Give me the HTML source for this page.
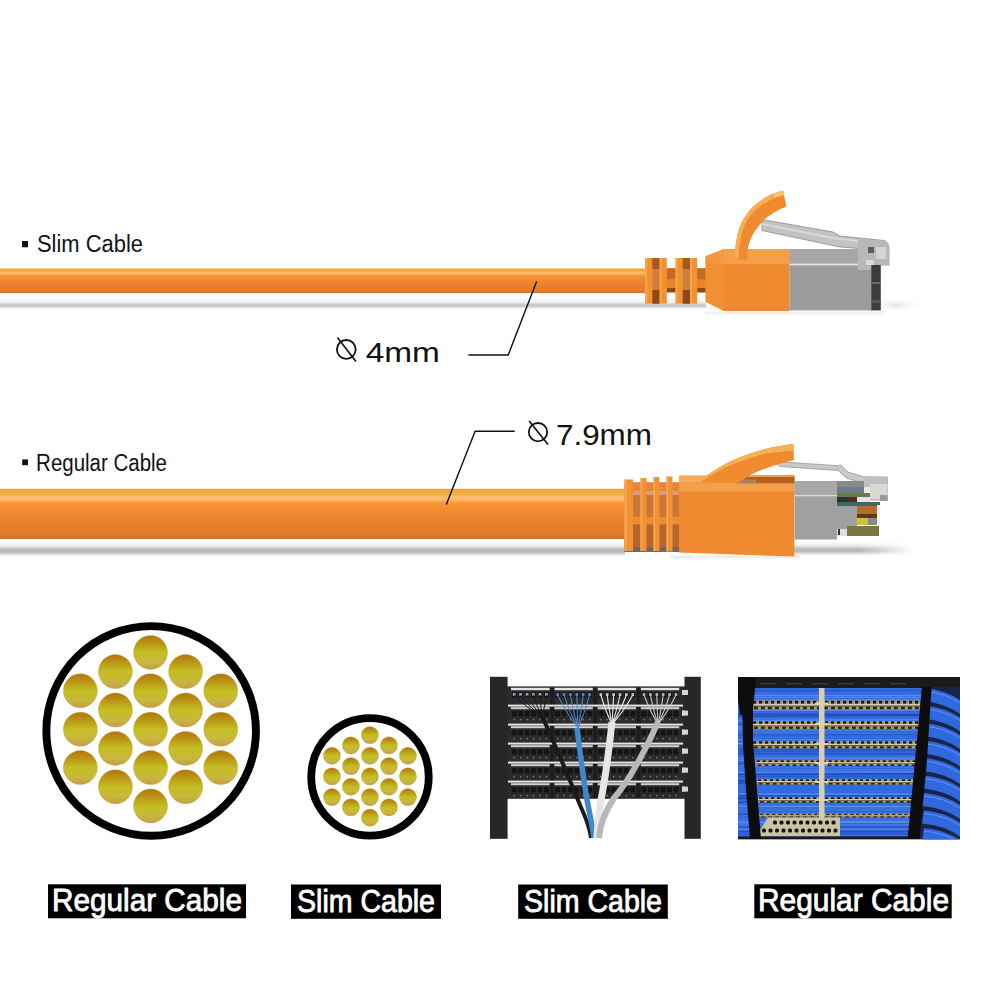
<!DOCTYPE html>
<html><head><meta charset="utf-8">
<style>
html,body{margin:0;padding:0;background:#fff;}
body{width:1000px;height:1000px;overflow:hidden;position:relative;font-family:"Liberation Sans",sans-serif;}
svg{position:absolute;left:0;top:0;display:block;font-family:"Liberation Sans",sans-serif;}
</style></head>
<body>
<svg width="1000" height="1000" viewBox="0 0 1000 1000">
<defs>
  <linearGradient id="cab" x1="0" y1="0" x2="0" y2="1">
    <stop offset="0" stop-color="#E8A640"/>
    <stop offset="0.05" stop-color="#EEA93E"/>
    <stop offset="0.12" stop-color="#F2AE46"/>
    <stop offset="0.16" stop-color="#FCBE70"/>
    <stop offset="0.23" stop-color="#FBB464"/>
    <stop offset="0.28" stop-color="#F99636"/>
    <stop offset="0.45" stop-color="#F38C30"/>
    <stop offset="0.62" stop-color="#E8822E"/>
    <stop offset="0.92" stop-color="#E27A2A"/>
    <stop offset="1" stop-color="#C87436"/>
  </linearGradient>
  <linearGradient id="shdS" x1="0" y1="0" x2="0" y2="1">
    <stop offset="0" stop-color="#F4F6F8" stop-opacity="0"/>
    <stop offset="0.45" stop-color="#EDEFF1"/>
    <stop offset="0.62" stop-color="#C8C8C8"/>
    <stop offset="0.76" stop-color="#CDCDCD"/>
    <stop offset="1" stop-color="#FFFFFF" stop-opacity="0"/>
  </linearGradient>
  <linearGradient id="shdR" x1="0" y1="0" x2="0" y2="1">
    <stop offset="0" stop-color="#F4F6F8" stop-opacity="0"/>
    <stop offset="0.3" stop-color="#EEF0F2"/>
    <stop offset="0.55" stop-color="#B8B8B8"/>
    <stop offset="0.7" stop-color="#BDBDBD"/>
    <stop offset="1" stop-color="#FFFFFF" stop-opacity="0"/>
  </linearGradient>
  <linearGradient id="shdX" x1="0" y1="0" x2="1" y2="0">
    <stop offset="0" stop-color="#fff" stop-opacity="1"/>
    <stop offset="0.6" stop-color="#fff" stop-opacity="1"/>
    <stop offset="1" stop-color="#fff" stop-opacity="0"/>
  </linearGradient>
  <linearGradient id="shd" x1="0" y1="0" x2="0" y2="1">
    <stop offset="0" stop-color="#fff" stop-opacity="0"/>
    <stop offset="0.5" stop-color="#B4B4B4"/>
    <stop offset="1" stop-color="#fff" stop-opacity="0"/>
  </linearGradient>
  <linearGradient id="dot" x1="0" y1="0" x2="0" y2="1">
    <stop offset="0" stop-color="#B4740C"/>
    <stop offset="0.3" stop-color="#BCA018"/>
    <stop offset="0.5" stop-color="#C4BE22"/>
    <stop offset="0.78" stop-color="#C8B83E"/>
    <stop offset="1" stop-color="#C89C48"/>
  </linearGradient>
  <linearGradient id="grey" x1="0" y1="0" x2="0" y2="1">
    <stop offset="0" stop-color="#A9A9A9"/>
    <stop offset="1" stop-color="#9A9A9A"/>
  </linearGradient>
  <clipPath id="bpclip"><rect x="738" y="677" width="222" height="162.4"/></clipPath>
  <linearGradient id="fadeX" x1="0" y1="0" x2="1" y2="0">
    <stop offset="0" stop-color="#fff"/>
    <stop offset="0.55" stop-color="#fff"/>
    <stop offset="1" stop-color="#000"/>
  </linearGradient>
  <mask id="fadeMask" maskContentUnits="objectBoundingBox"><rect x="0" y="0" width="1" height="1" fill="url(#fadeX)"/></mask>
  <radialGradient id="softsh" cx="0.5" cy="0.5" r="0.5">
    <stop offset="0" stop-color="#D0D0D0"/>
    <stop offset="1" stop-color="#fff" stop-opacity="0"/>
  </radialGradient>
</defs>

<!-- ============ SLIM CABLE ============ -->
<rect x="0" y="296" width="706" height="14" fill="url(#shdS)"/>
<rect x="0" y="268.5" width="648" height="24.6" fill="url(#cab)"/>

<!-- ============ REGULAR CABLE ============ -->
<rect x="0" y="540" width="625" height="18" fill="url(#shdR)"/>
<rect x="0" y="488.8" width="628" height="50.2" fill="url(#cab)"/>


<!-- slim connector -->
<ellipse cx="896" cy="305" rx="28" ry="8" fill="url(#softsh)" opacity="0.6"/>
<g id="slimconn">
  <!-- shadow under connector -->
  <rect x="705" y="308" width="180" height="10" fill="url(#shd)" opacity="0.2"/>
  <!-- inner cylinder between rings -->
  <rect x="645" y="268" width="62" height="24" fill="#E8842E"/>
  <rect x="666.8" y="268.8" width="8.8" height="10.4" fill="#C06C2A"/>
  <rect x="697.2" y="268.8" width="8.8" height="10.4" fill="#C06C2A"/>
  <rect x="666.8" y="288" width="8.8" height="4.5" fill="#8E4A18"/>
  <rect x="697.2" y="288" width="8.8" height="4.5" fill="#8E4A18"/>
  <!-- ring group 1 -->
  <rect x="645.2" y="258" width="21.6" height="45.6" fill="#F2922F"/>
  <rect x="652.4" y="258" width="7.2" height="45.6" fill="#D07E3E"/>
  <rect x="652.4" y="258" width="7.2" height="11" fill="#A8581A"/>
  <rect x="652.4" y="290" width="7.2" height="13.6" fill="#8E4818"/>
  <rect x="645.2" y="258" width="2" height="45.6" fill="#F7A64A"/>
  <rect x="659.6" y="258" width="2" height="45.6" fill="#F7A64A"/>
  <!-- ring group 2 -->
  <rect x="675.6" y="258" width="21.6" height="45.6" fill="#F2922F"/>
  <rect x="682.8" y="258" width="7.2" height="45.6" fill="#D07E3E"/>
  <rect x="682.8" y="258" width="7.2" height="11" fill="#A8581A"/>
  <rect x="682.8" y="290" width="7.2" height="13.6" fill="#8E4818"/>
  <rect x="675.6" y="258" width="2" height="45.6" fill="#F7A64A"/>
  <rect x="690" y="258" width="2" height="45.6" fill="#F7A64A"/>
  <!-- grey latch arm (behind) -->
  <path d="M762,219.5 L833,232 L840,236 L884,240.5 Q889,242 889,250 L889,265 L866,265 L866,249 L840,247 L833,245.6 L762,230.5 Z" fill="#C2C2C2" stroke="#8C8C8C" stroke-width="0.8"/>
  <path d="M762,224 L833,238 L866,242" fill="none" stroke="#D8D8D8" stroke-width="2"/>
  <!-- body -->
  <path d="M705.6,256.3 L723.8,249.3 L789.6,249.3 L789.6,311 L723.8,311 L705.6,301.8 Z" fill="#F08A2F"/>
  <path d="M705.6,256.3 L723.8,249.3 L789.6,249.3 L789.6,264 L718,264 L705.6,262 Z" fill="#F4A04A"/>
  <path d="M705.6,256.3 L723.8,249.3 L723.8,311 L705.6,301.8 Z" fill="#F29536" opacity="0.6"/>
  <!-- orange latch -->
  <path d="M734.4,259.4 C735,248 737,234 740,226.6 C743,219 749,210 754.4,205.8 C759,201.5 766,196.5 772.8,193.8 C776,192.5 780,191.5 783.2,191 L786.4,206.6 C782,208 779,210 776,211.4 C772,213.5 769,215.5 766.4,217.8 C763,220.5 760.5,223.5 758.4,226.6 C755.5,230 753.5,233 752,236.2 C750,240 748.7,244 748,247.4 C747.5,251 747.2,255 747.2,259.4 Z" fill="#F08A2E"/>
  <path d="M734.4,259.4 C735,248 737,234 740,226.6 C743,219 749,210 754.4,205.8 C759,201.5 766,196.5 772.8,193.8 C776,192.5 780,191.5 783.2,191 L784,195.2 C776,196.5 767,201 758,208 C751,213.5 746,221 743.2,229 C740.5,237 739,249 738.2,259.4 Z" fill="#F7AE52"/>
  <path d="M772.8,193.8 C776,192.5 780,191.5 783.2,191 L784,195.2 C780,195.8 777,196.6 774,197.6 Z" fill="#FAC470"/>
  <!-- grey shield -->
  <rect x="789.6" y="249.2" width="81.6" height="61.2" fill="#9C9C9C"/>
  <rect x="789.6" y="249.2" width="81.6" height="14.4" fill="#A7A7A7"/>
  <rect x="789.6" y="263.6" width="81.6" height="1.8" fill="#E4E4E4"/>
  <rect x="858" y="249.2" width="13" height="20" fill="#8C8C8C"/>
  <!-- clear housing right -->
  <path d="M858,239.6 L884,240.5 Q889,242 889,250 L889,264.8 L871,264.8 L871,270 L858,270 Z" fill="#B8B8B8"/>
  <rect x="876" y="247" width="10" height="12" fill="#D4D4D4"/>
  <rect x="868" y="247" width="6" height="6" fill="#5A5A5A"/>
  <rect x="866" y="260" width="8" height="5" fill="#DADADA"/>
  <!-- dark end -->
  <rect x="871.2" y="265" width="9.6" height="45.4" fill="#3C3C3C"/>
  <rect x="871.2" y="282" width="9.6" height="2" fill="#6A6A6A"/>
  <rect x="871.2" y="300" width="9.6" height="3" fill="#555"/>
</g>

<!-- regular connector -->
<g id="regconn">
  <rect x="794" y="540" width="120" height="17" fill="url(#shdR)" mask="url(#fadeMask)"/>
  <rect x="670" y="553" width="130" height="8" fill="url(#shd)" opacity="0.3"/>
  <!-- boot -->
  <rect x="624.5" y="482.5" width="55" height="69" fill="#C97636"/>
  <rect x="624.5" y="482.5" width="55" height="8.5" fill="#E5853A"/>
  <rect x="624.5" y="491" width="55" height="4" fill="#DE9A7A"/>
  <rect x="624.5" y="517" width="55" height="7.5" fill="#F08C30"/>
  <rect x="624.5" y="524.5" width="55" height="24" fill="#B4662E"/>
  <rect x="624.5" y="547" width="55" height="5" fill="#7A6460"/>
  <rect x="624.5" y="479.5" width="8.5" height="71.5" fill="#F39232"/>
  <rect x="640.5" y="478" width="6" height="73" fill="#F39232"/>
  <rect x="653.5" y="477" width="6" height="74" fill="#F39232"/>
  <rect x="666.5" y="476.5" width="6" height="75" fill="#F39232"/>
  <rect x="624.5" y="479.5" width="2" height="71.5" fill="#F8AA55"/>
  <rect x="640.5" y="478" width="1.5" height="73" fill="#F8AA55"/>
  <rect x="653.5" y="477" width="1.5" height="74" fill="#F8AA55"/>
  <rect x="666.5" y="476.5" width="1.5" height="75" fill="#F8AA55"/>
  <!-- grey latch arm -->
  <path d="M776,461.5 L838.4,465.7 L841,465 L848,472 L863.6,476.8 L887.4,477 L887.4,500 L864,500 L863.6,483.2 L846.8,478.3 L838.4,470.6 L780,466.5 Z" fill="#C8C8C8" stroke="#8E8E8E" stroke-width="0.7"/>
  <!-- body -->
  <path d="M679,476 L794.3,476 L794.3,556.5 L679,552.5 Z" fill="#F08A30"/>
  <path d="M679,475.4 L794.3,475.4 L794.3,491.6 L679,491.6 Z" fill="#F4A04A"/>
  <rect x="679" y="476" width="115.3" height="6" fill="#F7AC5A"/>
  <!-- recess below latch -->
  <path d="M736,475.4 L794.5,475.4 L794.5,483.2 L736,483.2 Z" fill="#B65E20"/>
  <rect x="736" y="475.4" width="58.5" height="1.6" fill="#EFA050"/>
  <path d="M737,479.5 L756,479.5 L756,483.2 L737,483.2 Z" fill="#A88068"/>
  <!-- orange latch -->
  <path d="M697.7,482.6 C703,478.5 707,475 712,472.1 C717,468.8 723,465 728.5,462.2 C734,459.6 740,457.2 745,455.6 C752,453 760,450.5 767,448.5 C776,446.5 785,445 793.4,444 L794,460 C789,461.3 783,462.8 778,464.4 C772,466 767,468 761.5,469.9 C758,471.3 755,472.6 751.6,474.3 C748.5,476 745.5,477.8 742.8,479.8 C740.8,481 739,482 737.3,483.1 Z" fill="#F08A2E"/>
  <path d="M697.7,482.6 C703,478.5 707,475 712,472.1 C717,468.8 723,465 728.5,462.2 C734,459.6 740,457.2 745,455.6 C752,453 760,450.5 767,448.5 C776,446.5 785,445 793.4,444 L793.6,450.6 C785,451.5 776,452.2 767,453.4 C760,454.8 752,457.5 745,460 C739,462.2 733,464 728.5,466 C722,469 717,472 712,474.9 C707,477.8 703,480 700,482.4 Z" fill="#F7B055"/>
  <!-- grey shield -->
  <rect x="794.5" y="481" width="42.5" height="58.5" fill="#A0A0A0"/>
  <rect x="794.5" y="481" width="42.5" height="14" fill="#A8A8A8"/>
  <rect x="794.5" y="495" width="42.5" height="1.3" fill="#DCDCDC"/>
  <rect x="837" y="506" width="20" height="23" fill="#A0A0A0"/>
  <!-- contacts -->
  <rect x="837" y="481" width="43" height="6" fill="#8A8A8A"/>
  <rect x="837" y="487" width="27" height="6" fill="#6A8088"/>
  <rect x="864" y="487" width="6" height="6" fill="#E8E8E8"/>
  <rect x="837" y="493" width="33" height="4" fill="#6A7A48"/>
  <rect x="837" y="497" width="11" height="5" fill="#303030"/>
  <rect x="848" y="497" width="9" height="5" fill="#602428"/>
  <rect x="857" y="497" width="13" height="5" fill="#E8E0E8"/>
  <rect x="837" y="502" width="43" height="4" fill="#3E6A5E"/>
  <rect x="857" y="506" width="20" height="8" fill="#B07028"/>
  <rect x="857" y="514" width="20" height="4" fill="#5A3A20"/>
  <rect x="857" y="518" width="11" height="7" fill="#C8C040"/>
  <rect x="868" y="518" width="10" height="7" fill="#8A8A8A"/>
  <rect x="847" y="526" width="32" height="10" fill="#7A7840"/>
  <rect x="837" y="529" width="10" height="7" fill="#E0E0E0"/>
  <rect x="838" y="529" width="2" height="6" fill="#303040"/>
  <rect x="877" y="505" width="3" height="20" fill="#EEE"/>
  <!-- clear housing -->
  <rect x="864" y="477" width="23.5" height="10" fill="#C0C0C0"/>
  <rect x="870" y="484" width="17.5" height="15" fill="#D8D8D8"/>
  <rect x="880" y="495" width="7.5" height="6" fill="#9A9A9A"/>
</g>

<!-- labels -->
<rect x="22" y="241" width="6" height="6.3" fill="#111"/>
<text x="37.00" y="252.4" font-size="23" fill="#111" textLength="106.00" lengthAdjust="spacingAndGlyphs">Slim Cable</text>
<rect x="22.2" y="459.4" width="5.8" height="5.8" fill="#111"/>
<text x="36.10" y="471.2" font-size="23" fill="#111" textLength="130.90" lengthAdjust="spacingAndGlyphs">Regular Cable</text>

<!-- dimension 4mm -->
<g fill="none" stroke="#111">
  <circle cx="346.3" cy="349.4" r="9.4" stroke-width="1.8"/>
  <line x1="337.4" y1="337.4" x2="356" y2="361.4" stroke-width="1.6"/>
  <polyline points="468.3,355 508.2,355 536.6,281.6" stroke-width="1.4"/>
  <circle cx="538" cy="432.2" r="9.2" stroke-width="1.8"/>
  <line x1="529.2" y1="421" x2="548" y2="444.6" stroke-width="1.6"/>
  <polyline points="514.7,431.2 475.1,431.2 446.3,504.6" stroke-width="1.4"/>
</g>
<text x="365.70" y="362.4" font-size="28" fill="#111" textLength="74.20" lengthAdjust="spacingAndGlyphs">4mm</text>
<text x="556.00" y="444.9" font-size="29" fill="#111" textLength="95.90" lengthAdjust="spacingAndGlyphs">7.9mm</text>

<!-- ============ CROSS SECTIONS ============ -->
<g id="big">
  <circle cx="151.15" cy="730.9" r="104.8" fill="#fff" stroke="#000" stroke-width="7.9"/>
</g>
<g fill="url(#dot)" stroke="#B89A3C" stroke-width="0.5" stroke-opacity="0.7">
  <circle cx="80.35" cy="690.80" r="17"/>
  <circle cx="80.35" cy="729.20" r="17"/>
  <circle cx="80.35" cy="767.60" r="17"/>
  <circle cx="115.45" cy="671.60" r="17"/>
  <circle cx="115.45" cy="710.00" r="17"/>
  <circle cx="115.45" cy="748.40" r="17"/>
  <circle cx="115.45" cy="786.80" r="17"/>
  <circle cx="150.55" cy="652.40" r="17"/>
  <circle cx="150.55" cy="690.80" r="17"/>
  <circle cx="150.55" cy="729.20" r="17"/>
  <circle cx="150.55" cy="767.60" r="17"/>
  <circle cx="150.55" cy="806.00" r="17"/>
  <circle cx="185.65" cy="671.60" r="17"/>
  <circle cx="185.65" cy="710.00" r="17"/>
  <circle cx="185.65" cy="748.40" r="17"/>
  <circle cx="185.65" cy="786.80" r="17"/>
  <circle cx="220.75" cy="690.80" r="17"/>
  <circle cx="220.75" cy="729.20" r="17"/>
  <circle cx="220.75" cy="767.60" r="17"/>
</g>
<g id="small">
  <circle cx="369.98" cy="776.9" r="58.75" fill="#fff" stroke="#000" stroke-width="7.8"/>
</g>
<g fill="url(#dot)" stroke="#B89A3C" stroke-width="0.5" stroke-opacity="0.7">
  <circle cx="331.95" cy="755.75" r="8.6"/>
  <circle cx="331.95" cy="776.40" r="8.6"/>
  <circle cx="331.95" cy="797.05" r="8.6"/>
  <circle cx="350.95" cy="745.42" r="8.6"/>
  <circle cx="350.95" cy="766.07" r="8.6"/>
  <circle cx="350.95" cy="786.73" r="8.6"/>
  <circle cx="350.95" cy="807.38" r="8.6"/>
  <circle cx="369.95" cy="735.10" r="8.6"/>
  <circle cx="369.95" cy="755.75" r="8.6"/>
  <circle cx="369.95" cy="776.40" r="8.6"/>
  <circle cx="369.95" cy="797.05" r="8.6"/>
  <circle cx="369.95" cy="817.70" r="8.6"/>
  <circle cx="388.95" cy="745.42" r="8.6"/>
  <circle cx="388.95" cy="766.07" r="8.6"/>
  <circle cx="388.95" cy="786.73" r="8.6"/>
  <circle cx="388.95" cy="807.38" r="8.6"/>
  <circle cx="407.95" cy="755.75" r="8.6"/>
  <circle cx="407.95" cy="776.40" r="8.6"/>
  <circle cx="407.95" cy="797.05" r="8.6"/>
</g>

<g id="rack">
<rect x="500" y="686.4" width="190" height="112.4" fill="#2C2A2A"/>
<rect x="511" y="687.8" width="38.6" height="2.4" fill="#E4E4E4"/>
<rect x="511.8" y="692" width="4.8" height="5.5" rx="1" fill="#151414"/>
<rect x="512.9" y="693" width="2.6" height="3" fill="#9CA4CC"/>
<rect x="518.2" y="692" width="4.8" height="5.5" rx="1" fill="#151414"/>
<rect x="519.3" y="693" width="2.6" height="3" fill="#9CA4CC"/>
<rect x="524.7" y="692" width="4.8" height="5.5" rx="1" fill="#151414"/>
<rect x="525.8" y="693" width="2.6" height="3" fill="#9CA4CC"/>
<rect x="531.1" y="692" width="4.8" height="5.5" rx="1" fill="#151414"/>
<rect x="532.2" y="693" width="2.6" height="3" fill="#9CA4CC"/>
<rect x="537.6" y="692" width="4.8" height="5.5" rx="1" fill="#151414"/>
<rect x="538.7" y="693" width="2.6" height="3" fill="#9CA4CC"/>
<rect x="544.0" y="692" width="4.8" height="5.5" rx="1" fill="#151414"/>
<rect x="545.1" y="693" width="2.6" height="3" fill="#9CA4CC"/>
<rect x="554.4" y="687.8" width="38.4" height="2.4" fill="#E4E4E4"/>
<rect x="555.2" y="692" width="4.8" height="5.5" rx="1" fill="#151414"/>
<rect x="556.3" y="693" width="2.6" height="3" fill="#4F86C8"/>
<rect x="561.6" y="692" width="4.8" height="5.5" rx="1" fill="#151414"/>
<rect x="562.7" y="693" width="2.6" height="3" fill="#4F86C8"/>
<rect x="568.0" y="692" width="4.8" height="5.5" rx="1" fill="#151414"/>
<rect x="569.1" y="693" width="2.6" height="3" fill="#4F86C8"/>
<rect x="574.4" y="692" width="4.8" height="5.5" rx="1" fill="#151414"/>
<rect x="575.5" y="693" width="2.6" height="3" fill="#4F86C8"/>
<rect x="580.8" y="692" width="4.8" height="5.5" rx="1" fill="#151414"/>
<rect x="581.9" y="693" width="2.6" height="3" fill="#4F86C8"/>
<rect x="587.2" y="692" width="4.8" height="5.5" rx="1" fill="#151414"/>
<rect x="588.3" y="693" width="2.6" height="3" fill="#4F86C8"/>
<rect x="597.6" y="687.8" width="38.4" height="2.4" fill="#E4E4E4"/>
<rect x="598.4" y="692" width="4.8" height="5.5" rx="1" fill="#151414"/>
<rect x="599.5" y="693" width="2.6" height="3" fill="#B8B8B8"/>
<rect x="604.8" y="692" width="4.8" height="5.5" rx="1" fill="#151414"/>
<rect x="605.9" y="693" width="2.6" height="3" fill="#B8B8B8"/>
<rect x="611.2" y="692" width="4.8" height="5.5" rx="1" fill="#151414"/>
<rect x="612.3" y="693" width="2.6" height="3" fill="#B8B8B8"/>
<rect x="617.6" y="692" width="4.8" height="5.5" rx="1" fill="#151414"/>
<rect x="618.7" y="693" width="2.6" height="3" fill="#B8B8B8"/>
<rect x="624.0" y="692" width="4.8" height="5.5" rx="1" fill="#151414"/>
<rect x="625.1" y="693" width="2.6" height="3" fill="#B8B8B8"/>
<rect x="630.4" y="692" width="4.8" height="5.5" rx="1" fill="#151414"/>
<rect x="631.5" y="693" width="2.6" height="3" fill="#B8B8B8"/>
<rect x="640.8" y="687.8" width="38.4" height="2.4" fill="#E4E4E4"/>
<rect x="641.6" y="692" width="4.8" height="5.5" rx="1" fill="#151414"/>
<rect x="642.7" y="693" width="2.6" height="3" fill="#A8A8A8"/>
<rect x="648.0" y="692" width="4.8" height="5.5" rx="1" fill="#151414"/>
<rect x="649.1" y="693" width="2.6" height="3" fill="#A8A8A8"/>
<rect x="654.4" y="692" width="4.8" height="5.5" rx="1" fill="#151414"/>
<rect x="655.5" y="693" width="2.6" height="3" fill="#A8A8A8"/>
<rect x="660.8" y="692" width="4.8" height="5.5" rx="1" fill="#151414"/>
<rect x="661.9" y="693" width="2.6" height="3" fill="#A8A8A8"/>
<rect x="667.2" y="692" width="4.8" height="5.5" rx="1" fill="#151414"/>
<rect x="668.3" y="693" width="2.6" height="3" fill="#A8A8A8"/>
<rect x="673.6" y="692" width="4.8" height="5.5" rx="1" fill="#151414"/>
<rect x="674.7" y="693" width="2.6" height="3" fill="#A8A8A8"/>
<rect x="550.1" y="688" width="4" height="110" fill="#1E1C1C"/>
<rect x="593.3" y="688" width="4" height="110" fill="#1E1C1C"/>
<rect x="636.5" y="688" width="4" height="110" fill="#1E1C1C"/>
<rect x="508" y="704.6" width="175" height="2" fill="#E6E6E6"/>
<rect x="511" y="707.2" width="38.6" height="2" fill="#D2D2D2"/>
<rect x="511.8" y="711.1" width="4.8" height="5.5" rx="1" fill="#151414"/>
<rect x="513.6" y="719.1" width="1.2" height="1.2" fill="#9A9A9A"/>
<rect x="518.2" y="711.1" width="4.8" height="5.5" rx="1" fill="#151414"/>
<rect x="520.0" y="719.1" width="1.2" height="1.2" fill="#9A9A9A"/>
<rect x="524.7" y="711.1" width="4.8" height="5.5" rx="1" fill="#151414"/>
<rect x="526.5" y="719.1" width="1.2" height="1.2" fill="#9A9A9A"/>
<rect x="531.1" y="711.1" width="4.8" height="5.5" rx="1" fill="#151414"/>
<rect x="532.9" y="719.1" width="1.2" height="1.2" fill="#9A9A9A"/>
<rect x="537.6" y="711.1" width="4.8" height="5.5" rx="1" fill="#151414"/>
<rect x="539.4" y="719.1" width="1.2" height="1.2" fill="#9A9A9A"/>
<rect x="544.0" y="711.1" width="4.8" height="5.5" rx="1" fill="#151414"/>
<rect x="545.8" y="719.1" width="1.2" height="1.2" fill="#9A9A9A"/>
<rect x="554.4" y="707.2" width="38.4" height="2" fill="#D2D2D2"/>
<rect x="555.2" y="711.1" width="4.8" height="5.5" rx="1" fill="#151414"/>
<rect x="557.0" y="719.1" width="1.2" height="1.2" fill="#9A9A9A"/>
<rect x="561.6" y="711.1" width="4.8" height="5.5" rx="1" fill="#151414"/>
<rect x="563.4" y="719.1" width="1.2" height="1.2" fill="#9A9A9A"/>
<rect x="568.0" y="711.1" width="4.8" height="5.5" rx="1" fill="#151414"/>
<rect x="569.8" y="719.1" width="1.2" height="1.2" fill="#9A9A9A"/>
<rect x="574.4" y="711.1" width="4.8" height="5.5" rx="1" fill="#151414"/>
<rect x="576.2" y="719.1" width="1.2" height="1.2" fill="#9A9A9A"/>
<rect x="580.8" y="711.1" width="4.8" height="5.5" rx="1" fill="#151414"/>
<rect x="582.6" y="719.1" width="1.2" height="1.2" fill="#9A9A9A"/>
<rect x="587.2" y="711.1" width="4.8" height="5.5" rx="1" fill="#151414"/>
<rect x="589.0" y="719.1" width="1.2" height="1.2" fill="#9A9A9A"/>
<rect x="597.6" y="707.2" width="38.4" height="2" fill="#D2D2D2"/>
<rect x="598.4" y="711.1" width="4.8" height="5.5" rx="1" fill="#151414"/>
<rect x="600.2" y="719.1" width="1.2" height="1.2" fill="#9A9A9A"/>
<rect x="604.8" y="711.1" width="4.8" height="5.5" rx="1" fill="#151414"/>
<rect x="606.6" y="719.1" width="1.2" height="1.2" fill="#9A9A9A"/>
<rect x="611.2" y="711.1" width="4.8" height="5.5" rx="1" fill="#151414"/>
<rect x="613.0" y="719.1" width="1.2" height="1.2" fill="#9A9A9A"/>
<rect x="617.6" y="711.1" width="4.8" height="5.5" rx="1" fill="#151414"/>
<rect x="619.4" y="719.1" width="1.2" height="1.2" fill="#9A9A9A"/>
<rect x="624.0" y="711.1" width="4.8" height="5.5" rx="1" fill="#151414"/>
<rect x="625.8" y="719.1" width="1.2" height="1.2" fill="#9A9A9A"/>
<rect x="630.4" y="711.1" width="4.8" height="5.5" rx="1" fill="#151414"/>
<rect x="632.2" y="719.1" width="1.2" height="1.2" fill="#9A9A9A"/>
<rect x="640.8" y="707.2" width="38.4" height="2" fill="#D2D2D2"/>
<rect x="641.6" y="711.1" width="4.8" height="5.5" rx="1" fill="#151414"/>
<rect x="643.4" y="719.1" width="1.2" height="1.2" fill="#9A9A9A"/>
<rect x="648.0" y="711.1" width="4.8" height="5.5" rx="1" fill="#151414"/>
<rect x="649.8" y="719.1" width="1.2" height="1.2" fill="#9A9A9A"/>
<rect x="654.4" y="711.1" width="4.8" height="5.5" rx="1" fill="#151414"/>
<rect x="656.2" y="719.1" width="1.2" height="1.2" fill="#9A9A9A"/>
<rect x="660.8" y="711.1" width="4.8" height="5.5" rx="1" fill="#151414"/>
<rect x="662.6" y="719.1" width="1.2" height="1.2" fill="#9A9A9A"/>
<rect x="667.2" y="711.1" width="4.8" height="5.5" rx="1" fill="#151414"/>
<rect x="669.0" y="719.1" width="1.2" height="1.2" fill="#9A9A9A"/>
<rect x="673.6" y="711.1" width="4.8" height="5.5" rx="1" fill="#151414"/>
<rect x="675.4" y="719.1" width="1.2" height="1.2" fill="#9A9A9A"/>
<rect x="682" y="710.6" width="6" height="5" fill="#D8D8D8"/>
<rect x="508" y="723.6" width="175" height="2" fill="#E6E6E6"/>
<rect x="511" y="726.2" width="38.6" height="2" fill="#D2D2D2"/>
<rect x="511.8" y="730.1" width="4.8" height="5.5" rx="1" fill="#151414"/>
<rect x="513.6" y="738.1" width="1.2" height="1.2" fill="#9A9A9A"/>
<rect x="518.2" y="730.1" width="4.8" height="5.5" rx="1" fill="#151414"/>
<rect x="520.0" y="738.1" width="1.2" height="1.2" fill="#9A9A9A"/>
<rect x="524.7" y="730.1" width="4.8" height="5.5" rx="1" fill="#151414"/>
<rect x="526.5" y="738.1" width="1.2" height="1.2" fill="#9A9A9A"/>
<rect x="531.1" y="730.1" width="4.8" height="5.5" rx="1" fill="#151414"/>
<rect x="532.9" y="738.1" width="1.2" height="1.2" fill="#9A9A9A"/>
<rect x="537.6" y="730.1" width="4.8" height="5.5" rx="1" fill="#151414"/>
<rect x="539.4" y="738.1" width="1.2" height="1.2" fill="#9A9A9A"/>
<rect x="544.0" y="730.1" width="4.8" height="5.5" rx="1" fill="#151414"/>
<rect x="545.8" y="738.1" width="1.2" height="1.2" fill="#9A9A9A"/>
<rect x="554.4" y="726.2" width="38.4" height="2" fill="#D2D2D2"/>
<rect x="555.2" y="730.1" width="4.8" height="5.5" rx="1" fill="#151414"/>
<rect x="557.0" y="738.1" width="1.2" height="1.2" fill="#9A9A9A"/>
<rect x="561.6" y="730.1" width="4.8" height="5.5" rx="1" fill="#151414"/>
<rect x="563.4" y="738.1" width="1.2" height="1.2" fill="#9A9A9A"/>
<rect x="568.0" y="730.1" width="4.8" height="5.5" rx="1" fill="#151414"/>
<rect x="569.8" y="738.1" width="1.2" height="1.2" fill="#9A9A9A"/>
<rect x="574.4" y="730.1" width="4.8" height="5.5" rx="1" fill="#151414"/>
<rect x="576.2" y="738.1" width="1.2" height="1.2" fill="#9A9A9A"/>
<rect x="580.8" y="730.1" width="4.8" height="5.5" rx="1" fill="#151414"/>
<rect x="582.6" y="738.1" width="1.2" height="1.2" fill="#9A9A9A"/>
<rect x="587.2" y="730.1" width="4.8" height="5.5" rx="1" fill="#151414"/>
<rect x="589.0" y="738.1" width="1.2" height="1.2" fill="#9A9A9A"/>
<rect x="597.6" y="726.2" width="38.4" height="2" fill="#D2D2D2"/>
<rect x="598.4" y="730.1" width="4.8" height="5.5" rx="1" fill="#151414"/>
<rect x="600.2" y="738.1" width="1.2" height="1.2" fill="#9A9A9A"/>
<rect x="604.8" y="730.1" width="4.8" height="5.5" rx="1" fill="#151414"/>
<rect x="606.6" y="738.1" width="1.2" height="1.2" fill="#9A9A9A"/>
<rect x="611.2" y="730.1" width="4.8" height="5.5" rx="1" fill="#151414"/>
<rect x="613.0" y="738.1" width="1.2" height="1.2" fill="#9A9A9A"/>
<rect x="617.6" y="730.1" width="4.8" height="5.5" rx="1" fill="#151414"/>
<rect x="619.4" y="738.1" width="1.2" height="1.2" fill="#9A9A9A"/>
<rect x="624.0" y="730.1" width="4.8" height="5.5" rx="1" fill="#151414"/>
<rect x="625.8" y="738.1" width="1.2" height="1.2" fill="#9A9A9A"/>
<rect x="630.4" y="730.1" width="4.8" height="5.5" rx="1" fill="#151414"/>
<rect x="632.2" y="738.1" width="1.2" height="1.2" fill="#9A9A9A"/>
<rect x="640.8" y="726.2" width="38.4" height="2" fill="#D2D2D2"/>
<rect x="641.6" y="730.1" width="4.8" height="5.5" rx="1" fill="#151414"/>
<rect x="643.4" y="738.1" width="1.2" height="1.2" fill="#9A9A9A"/>
<rect x="648.0" y="730.1" width="4.8" height="5.5" rx="1" fill="#151414"/>
<rect x="649.8" y="738.1" width="1.2" height="1.2" fill="#9A9A9A"/>
<rect x="654.4" y="730.1" width="4.8" height="5.5" rx="1" fill="#151414"/>
<rect x="656.2" y="738.1" width="1.2" height="1.2" fill="#9A9A9A"/>
<rect x="660.8" y="730.1" width="4.8" height="5.5" rx="1" fill="#151414"/>
<rect x="662.6" y="738.1" width="1.2" height="1.2" fill="#9A9A9A"/>
<rect x="667.2" y="730.1" width="4.8" height="5.5" rx="1" fill="#151414"/>
<rect x="669.0" y="738.1" width="1.2" height="1.2" fill="#9A9A9A"/>
<rect x="673.6" y="730.1" width="4.8" height="5.5" rx="1" fill="#151414"/>
<rect x="675.4" y="738.1" width="1.2" height="1.2" fill="#9A9A9A"/>
<rect x="682" y="729.6" width="6" height="5" fill="#D8D8D8"/>
<rect x="508" y="742.6" width="175" height="2" fill="#E6E6E6"/>
<rect x="511" y="745.2" width="38.6" height="2" fill="#D2D2D2"/>
<rect x="511.8" y="749.1" width="4.8" height="5.5" rx="1" fill="#151414"/>
<rect x="513.6" y="757.1" width="1.2" height="1.2" fill="#9A9A9A"/>
<rect x="518.2" y="749.1" width="4.8" height="5.5" rx="1" fill="#151414"/>
<rect x="520.0" y="757.1" width="1.2" height="1.2" fill="#9A9A9A"/>
<rect x="524.7" y="749.1" width="4.8" height="5.5" rx="1" fill="#151414"/>
<rect x="526.5" y="757.1" width="1.2" height="1.2" fill="#9A9A9A"/>
<rect x="531.1" y="749.1" width="4.8" height="5.5" rx="1" fill="#151414"/>
<rect x="532.9" y="757.1" width="1.2" height="1.2" fill="#9A9A9A"/>
<rect x="537.6" y="749.1" width="4.8" height="5.5" rx="1" fill="#151414"/>
<rect x="539.4" y="757.1" width="1.2" height="1.2" fill="#9A9A9A"/>
<rect x="544.0" y="749.1" width="4.8" height="5.5" rx="1" fill="#151414"/>
<rect x="545.8" y="757.1" width="1.2" height="1.2" fill="#9A9A9A"/>
<rect x="554.4" y="745.2" width="38.4" height="2" fill="#D2D2D2"/>
<rect x="555.2" y="749.1" width="4.8" height="5.5" rx="1" fill="#151414"/>
<rect x="557.0" y="757.1" width="1.2" height="1.2" fill="#9A9A9A"/>
<rect x="561.6" y="749.1" width="4.8" height="5.5" rx="1" fill="#151414"/>
<rect x="563.4" y="757.1" width="1.2" height="1.2" fill="#9A9A9A"/>
<rect x="568.0" y="749.1" width="4.8" height="5.5" rx="1" fill="#151414"/>
<rect x="569.8" y="757.1" width="1.2" height="1.2" fill="#9A9A9A"/>
<rect x="574.4" y="749.1" width="4.8" height="5.5" rx="1" fill="#151414"/>
<rect x="576.2" y="757.1" width="1.2" height="1.2" fill="#9A9A9A"/>
<rect x="580.8" y="749.1" width="4.8" height="5.5" rx="1" fill="#151414"/>
<rect x="582.6" y="757.1" width="1.2" height="1.2" fill="#9A9A9A"/>
<rect x="587.2" y="749.1" width="4.8" height="5.5" rx="1" fill="#151414"/>
<rect x="589.0" y="757.1" width="1.2" height="1.2" fill="#9A9A9A"/>
<rect x="597.6" y="745.2" width="38.4" height="2" fill="#D2D2D2"/>
<rect x="598.4" y="749.1" width="4.8" height="5.5" rx="1" fill="#151414"/>
<rect x="600.2" y="757.1" width="1.2" height="1.2" fill="#9A9A9A"/>
<rect x="604.8" y="749.1" width="4.8" height="5.5" rx="1" fill="#151414"/>
<rect x="606.6" y="757.1" width="1.2" height="1.2" fill="#9A9A9A"/>
<rect x="611.2" y="749.1" width="4.8" height="5.5" rx="1" fill="#151414"/>
<rect x="613.0" y="757.1" width="1.2" height="1.2" fill="#9A9A9A"/>
<rect x="617.6" y="749.1" width="4.8" height="5.5" rx="1" fill="#151414"/>
<rect x="619.4" y="757.1" width="1.2" height="1.2" fill="#9A9A9A"/>
<rect x="624.0" y="749.1" width="4.8" height="5.5" rx="1" fill="#151414"/>
<rect x="625.8" y="757.1" width="1.2" height="1.2" fill="#9A9A9A"/>
<rect x="630.4" y="749.1" width="4.8" height="5.5" rx="1" fill="#151414"/>
<rect x="632.2" y="757.1" width="1.2" height="1.2" fill="#9A9A9A"/>
<rect x="640.8" y="745.2" width="38.4" height="2" fill="#D2D2D2"/>
<rect x="641.6" y="749.1" width="4.8" height="5.5" rx="1" fill="#151414"/>
<rect x="643.4" y="757.1" width="1.2" height="1.2" fill="#9A9A9A"/>
<rect x="648.0" y="749.1" width="4.8" height="5.5" rx="1" fill="#151414"/>
<rect x="649.8" y="757.1" width="1.2" height="1.2" fill="#9A9A9A"/>
<rect x="654.4" y="749.1" width="4.8" height="5.5" rx="1" fill="#151414"/>
<rect x="656.2" y="757.1" width="1.2" height="1.2" fill="#9A9A9A"/>
<rect x="660.8" y="749.1" width="4.8" height="5.5" rx="1" fill="#151414"/>
<rect x="662.6" y="757.1" width="1.2" height="1.2" fill="#9A9A9A"/>
<rect x="667.2" y="749.1" width="4.8" height="5.5" rx="1" fill="#151414"/>
<rect x="669.0" y="757.1" width="1.2" height="1.2" fill="#9A9A9A"/>
<rect x="673.6" y="749.1" width="4.8" height="5.5" rx="1" fill="#151414"/>
<rect x="675.4" y="757.1" width="1.2" height="1.2" fill="#9A9A9A"/>
<rect x="682" y="748.6" width="6" height="5" fill="#D8D8D8"/>
<rect x="508" y="761.6" width="175" height="2" fill="#E6E6E6"/>
<rect x="511" y="764.2" width="38.6" height="2" fill="#D2D2D2"/>
<rect x="511.8" y="768.1" width="4.8" height="5.5" rx="1" fill="#151414"/>
<rect x="513.6" y="776.1" width="1.2" height="1.2" fill="#9A9A9A"/>
<rect x="518.2" y="768.1" width="4.8" height="5.5" rx="1" fill="#151414"/>
<rect x="520.0" y="776.1" width="1.2" height="1.2" fill="#9A9A9A"/>
<rect x="524.7" y="768.1" width="4.8" height="5.5" rx="1" fill="#151414"/>
<rect x="526.5" y="776.1" width="1.2" height="1.2" fill="#9A9A9A"/>
<rect x="531.1" y="768.1" width="4.8" height="5.5" rx="1" fill="#151414"/>
<rect x="532.9" y="776.1" width="1.2" height="1.2" fill="#9A9A9A"/>
<rect x="537.6" y="768.1" width="4.8" height="5.5" rx="1" fill="#151414"/>
<rect x="539.4" y="776.1" width="1.2" height="1.2" fill="#9A9A9A"/>
<rect x="544.0" y="768.1" width="4.8" height="5.5" rx="1" fill="#151414"/>
<rect x="545.8" y="776.1" width="1.2" height="1.2" fill="#9A9A9A"/>
<rect x="554.4" y="764.2" width="38.4" height="2" fill="#D2D2D2"/>
<rect x="555.2" y="768.1" width="4.8" height="5.5" rx="1" fill="#151414"/>
<rect x="557.0" y="776.1" width="1.2" height="1.2" fill="#9A9A9A"/>
<rect x="561.6" y="768.1" width="4.8" height="5.5" rx="1" fill="#151414"/>
<rect x="563.4" y="776.1" width="1.2" height="1.2" fill="#9A9A9A"/>
<rect x="568.0" y="768.1" width="4.8" height="5.5" rx="1" fill="#151414"/>
<rect x="569.8" y="776.1" width="1.2" height="1.2" fill="#9A9A9A"/>
<rect x="574.4" y="768.1" width="4.8" height="5.5" rx="1" fill="#151414"/>
<rect x="576.2" y="776.1" width="1.2" height="1.2" fill="#9A9A9A"/>
<rect x="580.8" y="768.1" width="4.8" height="5.5" rx="1" fill="#151414"/>
<rect x="582.6" y="776.1" width="1.2" height="1.2" fill="#9A9A9A"/>
<rect x="587.2" y="768.1" width="4.8" height="5.5" rx="1" fill="#151414"/>
<rect x="589.0" y="776.1" width="1.2" height="1.2" fill="#9A9A9A"/>
<rect x="597.6" y="764.2" width="38.4" height="2" fill="#D2D2D2"/>
<rect x="598.4" y="768.1" width="4.8" height="5.5" rx="1" fill="#151414"/>
<rect x="600.2" y="776.1" width="1.2" height="1.2" fill="#9A9A9A"/>
<rect x="604.8" y="768.1" width="4.8" height="5.5" rx="1" fill="#151414"/>
<rect x="606.6" y="776.1" width="1.2" height="1.2" fill="#9A9A9A"/>
<rect x="611.2" y="768.1" width="4.8" height="5.5" rx="1" fill="#151414"/>
<rect x="613.0" y="776.1" width="1.2" height="1.2" fill="#9A9A9A"/>
<rect x="617.6" y="768.1" width="4.8" height="5.5" rx="1" fill="#151414"/>
<rect x="619.4" y="776.1" width="1.2" height="1.2" fill="#9A9A9A"/>
<rect x="624.0" y="768.1" width="4.8" height="5.5" rx="1" fill="#151414"/>
<rect x="625.8" y="776.1" width="1.2" height="1.2" fill="#9A9A9A"/>
<rect x="630.4" y="768.1" width="4.8" height="5.5" rx="1" fill="#151414"/>
<rect x="632.2" y="776.1" width="1.2" height="1.2" fill="#9A9A9A"/>
<rect x="640.8" y="764.2" width="38.4" height="2" fill="#D2D2D2"/>
<rect x="641.6" y="768.1" width="4.8" height="5.5" rx="1" fill="#151414"/>
<rect x="643.4" y="776.1" width="1.2" height="1.2" fill="#9A9A9A"/>
<rect x="648.0" y="768.1" width="4.8" height="5.5" rx="1" fill="#151414"/>
<rect x="649.8" y="776.1" width="1.2" height="1.2" fill="#9A9A9A"/>
<rect x="654.4" y="768.1" width="4.8" height="5.5" rx="1" fill="#151414"/>
<rect x="656.2" y="776.1" width="1.2" height="1.2" fill="#9A9A9A"/>
<rect x="660.8" y="768.1" width="4.8" height="5.5" rx="1" fill="#151414"/>
<rect x="662.6" y="776.1" width="1.2" height="1.2" fill="#9A9A9A"/>
<rect x="667.2" y="768.1" width="4.8" height="5.5" rx="1" fill="#151414"/>
<rect x="669.0" y="776.1" width="1.2" height="1.2" fill="#9A9A9A"/>
<rect x="673.6" y="768.1" width="4.8" height="5.5" rx="1" fill="#151414"/>
<rect x="675.4" y="776.1" width="1.2" height="1.2" fill="#9A9A9A"/>
<rect x="682" y="767.6" width="6" height="5" fill="#D8D8D8"/>
<rect x="508" y="780.6" width="175" height="2" fill="#E6E6E6"/>
<rect x="511" y="783.2" width="38.6" height="2" fill="#D2D2D2"/>
<rect x="511.8" y="787.1" width="4.8" height="5.5" rx="1" fill="#151414"/>
<rect x="513.6" y="795.1" width="1.2" height="1.2" fill="#9A9A9A"/>
<rect x="518.2" y="787.1" width="4.8" height="5.5" rx="1" fill="#151414"/>
<rect x="520.0" y="795.1" width="1.2" height="1.2" fill="#9A9A9A"/>
<rect x="524.7" y="787.1" width="4.8" height="5.5" rx="1" fill="#151414"/>
<rect x="526.5" y="795.1" width="1.2" height="1.2" fill="#9A9A9A"/>
<rect x="531.1" y="787.1" width="4.8" height="5.5" rx="1" fill="#151414"/>
<rect x="532.9" y="795.1" width="1.2" height="1.2" fill="#9A9A9A"/>
<rect x="537.6" y="787.1" width="4.8" height="5.5" rx="1" fill="#151414"/>
<rect x="539.4" y="795.1" width="1.2" height="1.2" fill="#9A9A9A"/>
<rect x="544.0" y="787.1" width="4.8" height="5.5" rx="1" fill="#151414"/>
<rect x="545.8" y="795.1" width="1.2" height="1.2" fill="#9A9A9A"/>
<rect x="554.4" y="783.2" width="38.4" height="2" fill="#D2D2D2"/>
<rect x="555.2" y="787.1" width="4.8" height="5.5" rx="1" fill="#151414"/>
<rect x="557.0" y="795.1" width="1.2" height="1.2" fill="#9A9A9A"/>
<rect x="561.6" y="787.1" width="4.8" height="5.5" rx="1" fill="#151414"/>
<rect x="563.4" y="795.1" width="1.2" height="1.2" fill="#9A9A9A"/>
<rect x="568.0" y="787.1" width="4.8" height="5.5" rx="1" fill="#151414"/>
<rect x="569.8" y="795.1" width="1.2" height="1.2" fill="#9A9A9A"/>
<rect x="574.4" y="787.1" width="4.8" height="5.5" rx="1" fill="#151414"/>
<rect x="576.2" y="795.1" width="1.2" height="1.2" fill="#9A9A9A"/>
<rect x="580.8" y="787.1" width="4.8" height="5.5" rx="1" fill="#151414"/>
<rect x="582.6" y="795.1" width="1.2" height="1.2" fill="#9A9A9A"/>
<rect x="587.2" y="787.1" width="4.8" height="5.5" rx="1" fill="#151414"/>
<rect x="589.0" y="795.1" width="1.2" height="1.2" fill="#9A9A9A"/>
<rect x="597.6" y="783.2" width="38.4" height="2" fill="#D2D2D2"/>
<rect x="598.4" y="787.1" width="4.8" height="5.5" rx="1" fill="#151414"/>
<rect x="600.2" y="795.1" width="1.2" height="1.2" fill="#9A9A9A"/>
<rect x="604.8" y="787.1" width="4.8" height="5.5" rx="1" fill="#151414"/>
<rect x="606.6" y="795.1" width="1.2" height="1.2" fill="#9A9A9A"/>
<rect x="611.2" y="787.1" width="4.8" height="5.5" rx="1" fill="#151414"/>
<rect x="613.0" y="795.1" width="1.2" height="1.2" fill="#9A9A9A"/>
<rect x="617.6" y="787.1" width="4.8" height="5.5" rx="1" fill="#151414"/>
<rect x="619.4" y="795.1" width="1.2" height="1.2" fill="#9A9A9A"/>
<rect x="624.0" y="787.1" width="4.8" height="5.5" rx="1" fill="#151414"/>
<rect x="625.8" y="795.1" width="1.2" height="1.2" fill="#9A9A9A"/>
<rect x="630.4" y="787.1" width="4.8" height="5.5" rx="1" fill="#151414"/>
<rect x="632.2" y="795.1" width="1.2" height="1.2" fill="#9A9A9A"/>
<rect x="640.8" y="783.2" width="38.4" height="2" fill="#D2D2D2"/>
<rect x="641.6" y="787.1" width="4.8" height="5.5" rx="1" fill="#151414"/>
<rect x="643.4" y="795.1" width="1.2" height="1.2" fill="#9A9A9A"/>
<rect x="648.0" y="787.1" width="4.8" height="5.5" rx="1" fill="#151414"/>
<rect x="649.8" y="795.1" width="1.2" height="1.2" fill="#9A9A9A"/>
<rect x="654.4" y="787.1" width="4.8" height="5.5" rx="1" fill="#151414"/>
<rect x="656.2" y="795.1" width="1.2" height="1.2" fill="#9A9A9A"/>
<rect x="660.8" y="787.1" width="4.8" height="5.5" rx="1" fill="#151414"/>
<rect x="662.6" y="795.1" width="1.2" height="1.2" fill="#9A9A9A"/>
<rect x="667.2" y="787.1" width="4.8" height="5.5" rx="1" fill="#151414"/>
<rect x="669.0" y="795.1" width="1.2" height="1.2" fill="#9A9A9A"/>
<rect x="673.6" y="787.1" width="4.8" height="5.5" rx="1" fill="#151414"/>
<rect x="675.4" y="795.1" width="1.2" height="1.2" fill="#9A9A9A"/>
<rect x="682" y="786.6" width="6" height="5" fill="#D8D8D8"/>
<rect x="682" y="690" width="6" height="5" fill="#D8D8D8"/>
<rect x="502" y="689.0" width="3.5" height="2" fill="#0E0E0E"/>
<rect x="502" y="700.0" width="3.5" height="2" fill="#0E0E0E"/>
<rect x="502" y="708.0" width="3.5" height="2" fill="#0E0E0E"/>
<rect x="502" y="719.0" width="3.5" height="2" fill="#0E0E0E"/>
<rect x="502" y="727.0" width="3.5" height="2" fill="#0E0E0E"/>
<rect x="502" y="738.0" width="3.5" height="2" fill="#0E0E0E"/>
<rect x="502" y="746.0" width="3.5" height="2" fill="#0E0E0E"/>
<rect x="502" y="757.0" width="3.5" height="2" fill="#0E0E0E"/>
<rect x="502" y="765.0" width="3.5" height="2" fill="#0E0E0E"/>
<rect x="502" y="776.0" width="3.5" height="2" fill="#0E0E0E"/>
<rect x="502" y="784.0" width="3.5" height="2" fill="#0E0E0E"/>
<rect x="502" y="795.0" width="3.5" height="2" fill="#0E0E0E"/>
<rect x="490" y="676.8" width="17.6" height="162" fill="#282626"/>
<rect x="684.5" y="676.8" width="16.3" height="162" fill="#282626"/>
<rect x="682" y="690" width="6" height="5" fill="#D8D8D8"/>
<rect x="682" y="710.6" width="6" height="5" fill="#D8D8D8"/>
<rect x="682" y="729.6" width="6" height="5" fill="#D8D8D8"/>
<rect x="682" y="748.6" width="6" height="5" fill="#D8D8D8"/>
<rect x="682" y="767.6" width="6" height="5" fill="#D8D8D8"/>
<rect x="682" y="786.6" width="6" height="5" fill="#D8D8D8"/>
<path d="M514.2,695 Q528.1,709.5 542,716" fill="none" stroke="#1A1A1A" stroke-width="1.0"/>
<path d="M520.6,695 Q531.3,709.5 542,716" fill="none" stroke="#1A1A1A" stroke-width="1.0"/>
<path d="M527.1,695 Q534.5,709.5 542,716" fill="none" stroke="#1A1A1A" stroke-width="1.0"/>
<path d="M533.5,695 Q537.8,709.5 542,716" fill="none" stroke="#1A1A1A" stroke-width="1.0"/>
<path d="M540.0,695 Q541.0,709.5 542,716" fill="none" stroke="#1A1A1A" stroke-width="1.0"/>
<path d="M546.4,695 Q544.2,709.5 542,716" fill="none" stroke="#1A1A1A" stroke-width="1.0"/>
<path d="M557.6,695 Q567.8,715.5 578,728" fill="none" stroke="#4E8ED4" stroke-width="1.0"/>
<path d="M564.0,695 Q571.0,715.5 578,728" fill="none" stroke="#4E8ED4" stroke-width="1.0"/>
<path d="M570.4,695 Q574.2,715.5 578,728" fill="none" stroke="#4E8ED4" stroke-width="1.0"/>
<path d="M576.8,695 Q577.4,715.5 578,728" fill="none" stroke="#4E8ED4" stroke-width="1.0"/>
<path d="M583.2,695 Q580.6,715.5 578,728" fill="none" stroke="#4E8ED4" stroke-width="1.0"/>
<path d="M589.6,695 Q583.8,715.5 578,728" fill="none" stroke="#4E8ED4" stroke-width="1.0"/>
<path d="M600.8,695 Q606.4,713.5 612,724" fill="none" stroke="#EAEAEA" stroke-width="1.1"/>
<path d="M607.2,695 Q609.6,713.5 612,724" fill="none" stroke="#EAEAEA" stroke-width="1.1"/>
<path d="M613.6,695 Q612.8,713.5 612,724" fill="none" stroke="#EAEAEA" stroke-width="1.1"/>
<path d="M620.0,695 Q616.0,713.5 612,724" fill="none" stroke="#EAEAEA" stroke-width="1.1"/>
<path d="M626.4,695 Q619.2,713.5 612,724" fill="none" stroke="#EAEAEA" stroke-width="1.1"/>
<path d="M632.8,695 Q622.4,713.5 612,724" fill="none" stroke="#EAEAEA" stroke-width="1.1"/>
<path d="M644.0,695 Q651.0,713.5 658,724" fill="none" stroke="#C8C8C8" stroke-width="1.1"/>
<path d="M650.4,695 Q654.2,713.5 658,724" fill="none" stroke="#C8C8C8" stroke-width="1.1"/>
<path d="M656.8,695 Q657.4,713.5 658,724" fill="none" stroke="#C8C8C8" stroke-width="1.1"/>
<path d="M663.2,695 Q660.6,713.5 658,724" fill="none" stroke="#C8C8C8" stroke-width="1.1"/>
<path d="M669.6,695 Q663.8,713.5 658,724" fill="none" stroke="#C8C8C8" stroke-width="1.1"/>
<path d="M676.0,695 Q667.0,713.5 658,724" fill="none" stroke="#C8C8C8" stroke-width="1.1"/>
<path d="M542,716 C555,745 570,780 580,805 C586,818 590,828 591,838" fill="none" stroke="#1A1A1A" stroke-width="4"/>
<path d="M577,728 C580,752 584,785 588,805 C591,820 593,830 594,838" fill="none" stroke="#4088CC" stroke-width="5.5"/>
<path d="M612,722 C609,750 604,785 601,800 C599,815 597,828 597,838" fill="none" stroke="#E6E6E6" stroke-width="7"/>
<path d="M658,722 C648,745 630,780 614,798 C606,810 600,825 599,838" fill="none" stroke="#B8B8B8" stroke-width="6"/>
</g>
<g id="bluephoto" clip-path="url(#bpclip)">
<rect x="738" y="677" width="222" height="162.4" fill="#1A2238"/>
<rect x="738" y="687" width="222" height="152" fill="#3066DC"/>
<line x1="738" y1="687.5" x2="922" y2="687.3" stroke="#1E44A8" stroke-width="1.5" opacity="0.85"/>
<line x1="738" y1="689.1" x2="922" y2="688.9" stroke="#3A72E8" stroke-width="1.1" opacity="0.85"/>
<line x1="738" y1="690.8" x2="922" y2="690.1" stroke="#2650B8" stroke-width="0.9" opacity="0.85"/>
<line x1="738" y1="692.8" x2="922" y2="692.7" stroke="#3A70E4" stroke-width="0.8" opacity="0.85"/>
<line x1="738" y1="695.3" x2="922" y2="695.5" stroke="#5A90F4" stroke-width="1.5" opacity="0.85"/>
<line x1="738" y1="697.4" x2="922" y2="697.3" stroke="#5A90F4" stroke-width="1.2" opacity="0.85"/>
<line x1="738" y1="700.0" x2="922" y2="699.4" stroke="#5A90F4" stroke-width="1.1" opacity="0.85"/>
<line x1="738" y1="702.0" x2="922" y2="701.7" stroke="#2650B8" stroke-width="0.8" opacity="0.85"/>
<line x1="738" y1="704.4" x2="922" y2="704.6" stroke="#3A70E4" stroke-width="0.8" opacity="0.85"/>
<line x1="738" y1="706.2" x2="922" y2="705.5" stroke="#5A90F4" stroke-width="1.1" opacity="0.85"/>
<line x1="738" y1="707.9" x2="922" y2="707.9" stroke="#3A70E4" stroke-width="1.1" opacity="0.85"/>
<line x1="738" y1="710.3" x2="922" y2="710.2" stroke="#6A9CFA" stroke-width="1.2" opacity="0.85"/>
<line x1="738" y1="712.2" x2="922" y2="712.6" stroke="#3A72E8" stroke-width="0.8" opacity="0.85"/>
<line x1="738" y1="713.9" x2="922" y2="714.5" stroke="#1E44A8" stroke-width="1.1" opacity="0.85"/>
<line x1="738" y1="716.2" x2="922" y2="715.5" stroke="#1E44A8" stroke-width="1.2" opacity="0.85"/>
<line x1="738" y1="718.3" x2="922" y2="717.7" stroke="#3A70E4" stroke-width="1.3" opacity="0.85"/>
<line x1="738" y1="720.4" x2="922" y2="719.7" stroke="#5A90F4" stroke-width="1.5" opacity="0.85"/>
<line x1="738" y1="722.5" x2="922" y2="722.2" stroke="#3A72E8" stroke-width="1.4" opacity="0.85"/>
<line x1="738" y1="724.8" x2="922" y2="725.3" stroke="#2650B8" stroke-width="1.1" opacity="0.85"/>
<line x1="738" y1="726.5" x2="922" y2="726.5" stroke="#5A90F4" stroke-width="1.5" opacity="0.85"/>
<line x1="738" y1="728.8" x2="922" y2="728.5" stroke="#5A90F4" stroke-width="1.3" opacity="0.85"/>
<line x1="738" y1="730.9" x2="922" y2="730.6" stroke="#4A80EC" stroke-width="1.4" opacity="0.85"/>
<line x1="738" y1="732.9" x2="922" y2="733.6" stroke="#4A80EC" stroke-width="1.0" opacity="0.85"/>
<line x1="738" y1="734.9" x2="922" y2="734.2" stroke="#2650B8" stroke-width="0.8" opacity="0.85"/>
<line x1="738" y1="737.3" x2="922" y2="737.1" stroke="#3A70E4" stroke-width="1.3" opacity="0.85"/>
<line x1="738" y1="739.8" x2="922" y2="739.7" stroke="#6A9CFA" stroke-width="0.8" opacity="0.85"/>
<line x1="738" y1="741.9" x2="922" y2="742.5" stroke="#3A70E4" stroke-width="1.4" opacity="0.85"/>
<line x1="738" y1="743.8" x2="922" y2="744.1" stroke="#6A9CFA" stroke-width="1.5" opacity="0.85"/>
<line x1="738" y1="745.8" x2="922" y2="745.3" stroke="#3A70E4" stroke-width="0.8" opacity="0.85"/>
<line x1="738" y1="747.6" x2="922" y2="748.1" stroke="#3A70E4" stroke-width="0.7" opacity="0.85"/>
<line x1="738" y1="749.4" x2="922" y2="749.3" stroke="#1E44A8" stroke-width="0.7" opacity="0.85"/>
<line x1="738" y1="751.4" x2="922" y2="750.8" stroke="#2650B8" stroke-width="1.0" opacity="0.85"/>
<line x1="738" y1="753.8" x2="922" y2="754.2" stroke="#2650B8" stroke-width="1.2" opacity="0.85"/>
<line x1="738" y1="755.9" x2="922" y2="756.5" stroke="#3A72E8" stroke-width="1.3" opacity="0.85"/>
<line x1="738" y1="758.3" x2="922" y2="758.1" stroke="#6A9CFA" stroke-width="1.0" opacity="0.85"/>
<line x1="738" y1="760.4" x2="922" y2="759.7" stroke="#6A9CFA" stroke-width="0.7" opacity="0.85"/>
<line x1="738" y1="762.2" x2="922" y2="762.3" stroke="#3A70E4" stroke-width="0.8" opacity="0.85"/>
<line x1="738" y1="763.9" x2="922" y2="763.2" stroke="#2650B8" stroke-width="0.8" opacity="0.85"/>
<line x1="738" y1="765.8" x2="922" y2="765.4" stroke="#5A90F4" stroke-width="0.8" opacity="0.85"/>
<line x1="738" y1="767.8" x2="922" y2="767.6" stroke="#4A80EC" stroke-width="0.9" opacity="0.85"/>
<line x1="738" y1="769.8" x2="922" y2="769.8" stroke="#5A90F4" stroke-width="0.8" opacity="0.85"/>
<line x1="738" y1="772.4" x2="922" y2="771.7" stroke="#6A9CFA" stroke-width="1.1" opacity="0.85"/>
<line x1="738" y1="774.1" x2="922" y2="774.0" stroke="#1E44A8" stroke-width="1.3" opacity="0.85"/>
<line x1="738" y1="776.3" x2="922" y2="777.1" stroke="#2650B8" stroke-width="0.7" opacity="0.85"/>
<line x1="738" y1="778.5" x2="922" y2="779.1" stroke="#3A70E4" stroke-width="1.3" opacity="0.85"/>
<line x1="738" y1="780.8" x2="922" y2="781.4" stroke="#1E44A8" stroke-width="1.5" opacity="0.85"/>
<line x1="738" y1="783.1" x2="922" y2="783.8" stroke="#1E44A8" stroke-width="1.1" opacity="0.85"/>
<line x1="738" y1="785.1" x2="922" y2="785.5" stroke="#3A70E4" stroke-width="1.1" opacity="0.85"/>
<line x1="738" y1="787.0" x2="922" y2="787.5" stroke="#3A70E4" stroke-width="1.2" opacity="0.85"/>
<line x1="738" y1="789.4" x2="922" y2="789.9" stroke="#3A70E4" stroke-width="1.3" opacity="0.85"/>
<line x1="738" y1="791.7" x2="922" y2="791.7" stroke="#3A70E4" stroke-width="0.9" opacity="0.85"/>
<line x1="738" y1="794.0" x2="922" y2="794.0" stroke="#5A90F4" stroke-width="1.3" opacity="0.85"/>
<line x1="738" y1="795.8" x2="922" y2="795.8" stroke="#2650B8" stroke-width="1.5" opacity="0.85"/>
<line x1="738" y1="798.4" x2="922" y2="798.2" stroke="#1E44A8" stroke-width="1.5" opacity="0.85"/>
<line x1="738" y1="800.2" x2="922" y2="799.9" stroke="#3A70E4" stroke-width="1.1" opacity="0.85"/>
<line x1="738" y1="802.3" x2="922" y2="802.2" stroke="#2650B8" stroke-width="1.4" opacity="0.85"/>
<line x1="738" y1="804.5" x2="922" y2="805.1" stroke="#3A72E8" stroke-width="1.2" opacity="0.85"/>
<line x1="738" y1="806.3" x2="922" y2="806.7" stroke="#6A9CFA" stroke-width="1.3" opacity="0.85"/>
<line x1="738" y1="808.3" x2="922" y2="808.5" stroke="#3A70E4" stroke-width="1.0" opacity="0.85"/>
<line x1="738" y1="810.0" x2="922" y2="809.9" stroke="#4A80EC" stroke-width="1.0" opacity="0.85"/>
<line x1="738" y1="812.6" x2="922" y2="813.4" stroke="#4A80EC" stroke-width="0.8" opacity="0.85"/>
<line x1="738" y1="814.2" x2="922" y2="814.7" stroke="#2650B8" stroke-width="1.4" opacity="0.85"/>
<line x1="738" y1="815.9" x2="922" y2="815.9" stroke="#3A72E8" stroke-width="1.2" opacity="0.85"/>
<line x1="738" y1="818.5" x2="922" y2="817.9" stroke="#3A70E4" stroke-width="1.1" opacity="0.85"/>
<line x1="738" y1="820.1" x2="922" y2="820.1" stroke="#4A80EC" stroke-width="1.2" opacity="0.85"/>
<line x1="738" y1="822.6" x2="922" y2="822.1" stroke="#6A9CFA" stroke-width="1.5" opacity="0.85"/>
<line x1="738" y1="825.1" x2="922" y2="824.8" stroke="#5A90F4" stroke-width="0.9" opacity="0.85"/>
<line x1="738" y1="826.9" x2="922" y2="827.0" stroke="#2650B8" stroke-width="1.0" opacity="0.85"/>
<line x1="738" y1="829.4" x2="922" y2="829.1" stroke="#5A90F4" stroke-width="1.4" opacity="0.85"/>
<line x1="738" y1="831.4" x2="922" y2="831.5" stroke="#2650B8" stroke-width="1.4" opacity="0.85"/>
<line x1="738" y1="833.9" x2="922" y2="833.3" stroke="#2650B8" stroke-width="0.8" opacity="0.85"/>
<line x1="738" y1="836.0" x2="922" y2="835.5" stroke="#3A72E8" stroke-width="1.1" opacity="0.85"/>
<line x1="738" y1="837.6" x2="922" y2="837.0" stroke="#3A72E8" stroke-width="0.8" opacity="0.85"/>
<rect x="738" y="677" width="222" height="11" fill="#1B1B1B"/>
<rect x="760" y="683" width="16" height="1.5" fill="#3A3A3A"/>
<rect x="786" y="683" width="16" height="1.5" fill="#3A3A3A"/>
<rect x="812" y="683" width="16" height="1.5" fill="#3A3A3A"/>
<rect x="838" y="683" width="16" height="1.5" fill="#3A3A3A"/>
<rect x="864" y="683" width="16" height="1.5" fill="#3A3A3A"/>
<rect x="890" y="683" width="16" height="1.5" fill="#3A3A3A"/>
<rect x="752.0" y="700.5" width="168.0" height="9.0" fill="#A89C7C"/>
<rect x="753.0" y="700.8" width="3.2" height="3.2" fill="#1C1710"/>
<rect x="759.0" y="700.8" width="3.2" height="3.2" fill="#1C1710"/>
<rect x="765.0" y="700.8" width="3.2" height="3.2" fill="#1C1710"/>
<rect x="771.0" y="700.8" width="3.2" height="3.2" fill="#1C1710"/>
<rect x="777.0" y="700.8" width="3.2" height="3.2" fill="#1C1710"/>
<rect x="783.0" y="700.8" width="3.2" height="3.2" fill="#1C1710"/>
<rect x="789.0" y="700.8" width="3.2" height="3.2" fill="#1C1710"/>
<rect x="795.0" y="700.8" width="3.2" height="3.2" fill="#1C1710"/>
<rect x="801.0" y="700.8" width="3.2" height="3.2" fill="#1C1710"/>
<rect x="807.0" y="700.8" width="3.2" height="3.2" fill="#1C1710"/>
<rect x="813.0" y="700.8" width="3.2" height="3.2" fill="#1C1710"/>
<rect x="819.0" y="700.8" width="3.2" height="3.2" fill="#1C1710"/>
<rect x="825.0" y="700.8" width="3.2" height="3.2" fill="#1C1710"/>
<rect x="831.0" y="700.8" width="3.2" height="3.2" fill="#1C1710"/>
<rect x="837.0" y="700.8" width="3.2" height="3.2" fill="#1C1710"/>
<rect x="843.0" y="700.8" width="3.2" height="3.2" fill="#1C1710"/>
<rect x="849.0" y="700.8" width="3.2" height="3.2" fill="#1C1710"/>
<rect x="855.0" y="700.8" width="3.2" height="3.2" fill="#1C1710"/>
<rect x="861.0" y="700.8" width="3.2" height="3.2" fill="#1C1710"/>
<rect x="867.0" y="700.8" width="3.2" height="3.2" fill="#1C1710"/>
<rect x="873.0" y="700.8" width="3.2" height="3.2" fill="#1C1710"/>
<rect x="879.0" y="700.8" width="3.2" height="3.2" fill="#1C1710"/>
<rect x="885.0" y="700.8" width="3.2" height="3.2" fill="#1C1710"/>
<rect x="891.0" y="700.8" width="3.2" height="3.2" fill="#1C1710"/>
<rect x="897.0" y="700.8" width="3.2" height="3.2" fill="#1C1710"/>
<rect x="903.0" y="700.8" width="3.2" height="3.2" fill="#1C1710"/>
<rect x="909.0" y="700.8" width="3.2" height="3.2" fill="#1C1710"/>
<rect x="915.0" y="700.8" width="3.2" height="3.2" fill="#1C1710"/>
<rect x="752.0" y="703.7" width="168.0" height="2.0" fill="#D6CEB0"/>
<rect x="752.0" y="705.7" width="168.0" height="0.8" fill="#3A3020"/>
<rect x="754.0" y="706.8" width="3.8" height="2.5" fill="#2A2418"/>
<rect x="761.0" y="706.8" width="3.8" height="2.5" fill="#2A2418"/>
<rect x="768.0" y="706.8" width="3.8" height="2.5" fill="#2A2418"/>
<rect x="775.0" y="706.8" width="3.8" height="2.5" fill="#2A2418"/>
<rect x="782.0" y="706.8" width="3.8" height="2.5" fill="#2A2418"/>
<rect x="789.0" y="706.8" width="3.8" height="2.5" fill="#2A2418"/>
<rect x="796.0" y="706.8" width="3.8" height="2.5" fill="#2A2418"/>
<rect x="803.0" y="706.8" width="3.8" height="2.5" fill="#2A2418"/>
<rect x="810.0" y="706.8" width="3.8" height="2.5" fill="#2A2418"/>
<rect x="817.0" y="706.8" width="3.8" height="2.5" fill="#2A2418"/>
<rect x="824.0" y="706.8" width="3.8" height="2.5" fill="#2A2418"/>
<rect x="831.0" y="706.8" width="3.8" height="2.5" fill="#2A2418"/>
<rect x="838.0" y="706.8" width="3.8" height="2.5" fill="#2A2418"/>
<rect x="845.0" y="706.8" width="3.8" height="2.5" fill="#2A2418"/>
<rect x="852.0" y="706.8" width="3.8" height="2.5" fill="#2A2418"/>
<rect x="859.0" y="706.8" width="3.8" height="2.5" fill="#2A2418"/>
<rect x="866.0" y="706.8" width="3.8" height="2.5" fill="#2A2418"/>
<rect x="873.0" y="706.8" width="3.8" height="2.5" fill="#2A2418"/>
<rect x="880.0" y="706.8" width="3.8" height="2.5" fill="#2A2418"/>
<rect x="887.0" y="706.8" width="3.8" height="2.5" fill="#2A2418"/>
<rect x="894.0" y="706.8" width="3.8" height="2.5" fill="#2A2418"/>
<rect x="901.0" y="706.8" width="3.8" height="2.5" fill="#2A2418"/>
<rect x="908.0" y="706.8" width="3.8" height="2.5" fill="#2A2418"/>
<rect x="915.0" y="706.8" width="3.8" height="2.5" fill="#2A2418"/>
<rect x="752.0" y="721.0" width="168.0" height="8.0" fill="#A89C7C"/>
<rect x="753.0" y="721.3" width="3.2" height="2.8" fill="#1C1710"/>
<rect x="759.0" y="721.3" width="3.2" height="2.8" fill="#1C1710"/>
<rect x="765.0" y="721.3" width="3.2" height="2.8" fill="#1C1710"/>
<rect x="771.0" y="721.3" width="3.2" height="2.8" fill="#1C1710"/>
<rect x="777.0" y="721.3" width="3.2" height="2.8" fill="#1C1710"/>
<rect x="783.0" y="721.3" width="3.2" height="2.8" fill="#1C1710"/>
<rect x="789.0" y="721.3" width="3.2" height="2.8" fill="#1C1710"/>
<rect x="795.0" y="721.3" width="3.2" height="2.8" fill="#1C1710"/>
<rect x="801.0" y="721.3" width="3.2" height="2.8" fill="#1C1710"/>
<rect x="807.0" y="721.3" width="3.2" height="2.8" fill="#1C1710"/>
<rect x="813.0" y="721.3" width="3.2" height="2.8" fill="#1C1710"/>
<rect x="819.0" y="721.3" width="3.2" height="2.8" fill="#1C1710"/>
<rect x="825.0" y="721.3" width="3.2" height="2.8" fill="#1C1710"/>
<rect x="831.0" y="721.3" width="3.2" height="2.8" fill="#1C1710"/>
<rect x="837.0" y="721.3" width="3.2" height="2.8" fill="#1C1710"/>
<rect x="843.0" y="721.3" width="3.2" height="2.8" fill="#1C1710"/>
<rect x="849.0" y="721.3" width="3.2" height="2.8" fill="#1C1710"/>
<rect x="855.0" y="721.3" width="3.2" height="2.8" fill="#1C1710"/>
<rect x="861.0" y="721.3" width="3.2" height="2.8" fill="#1C1710"/>
<rect x="867.0" y="721.3" width="3.2" height="2.8" fill="#1C1710"/>
<rect x="873.0" y="721.3" width="3.2" height="2.8" fill="#1C1710"/>
<rect x="879.0" y="721.3" width="3.2" height="2.8" fill="#1C1710"/>
<rect x="885.0" y="721.3" width="3.2" height="2.8" fill="#1C1710"/>
<rect x="891.0" y="721.3" width="3.2" height="2.8" fill="#1C1710"/>
<rect x="897.0" y="721.3" width="3.2" height="2.8" fill="#1C1710"/>
<rect x="903.0" y="721.3" width="3.2" height="2.8" fill="#1C1710"/>
<rect x="909.0" y="721.3" width="3.2" height="2.8" fill="#1C1710"/>
<rect x="915.0" y="721.3" width="3.2" height="2.8" fill="#1C1710"/>
<rect x="752.0" y="723.8" width="168.0" height="1.8" fill="#D6CEB0"/>
<rect x="752.0" y="725.6" width="168.0" height="0.7" fill="#3A3020"/>
<rect x="754.0" y="726.6" width="3.8" height="2.3" fill="#2A2418"/>
<rect x="761.0" y="726.6" width="3.8" height="2.3" fill="#2A2418"/>
<rect x="768.0" y="726.6" width="3.8" height="2.3" fill="#2A2418"/>
<rect x="775.0" y="726.6" width="3.8" height="2.3" fill="#2A2418"/>
<rect x="782.0" y="726.6" width="3.8" height="2.3" fill="#2A2418"/>
<rect x="789.0" y="726.6" width="3.8" height="2.3" fill="#2A2418"/>
<rect x="796.0" y="726.6" width="3.8" height="2.3" fill="#2A2418"/>
<rect x="803.0" y="726.6" width="3.8" height="2.3" fill="#2A2418"/>
<rect x="810.0" y="726.6" width="3.8" height="2.3" fill="#2A2418"/>
<rect x="817.0" y="726.6" width="3.8" height="2.3" fill="#2A2418"/>
<rect x="824.0" y="726.6" width="3.8" height="2.3" fill="#2A2418"/>
<rect x="831.0" y="726.6" width="3.8" height="2.3" fill="#2A2418"/>
<rect x="838.0" y="726.6" width="3.8" height="2.3" fill="#2A2418"/>
<rect x="845.0" y="726.6" width="3.8" height="2.3" fill="#2A2418"/>
<rect x="852.0" y="726.6" width="3.8" height="2.3" fill="#2A2418"/>
<rect x="859.0" y="726.6" width="3.8" height="2.3" fill="#2A2418"/>
<rect x="866.0" y="726.6" width="3.8" height="2.3" fill="#2A2418"/>
<rect x="873.0" y="726.6" width="3.8" height="2.3" fill="#2A2418"/>
<rect x="880.0" y="726.6" width="3.8" height="2.3" fill="#2A2418"/>
<rect x="887.0" y="726.6" width="3.8" height="2.3" fill="#2A2418"/>
<rect x="894.0" y="726.6" width="3.8" height="2.3" fill="#2A2418"/>
<rect x="901.0" y="726.6" width="3.8" height="2.3" fill="#2A2418"/>
<rect x="908.0" y="726.6" width="3.8" height="2.3" fill="#2A2418"/>
<rect x="915.0" y="726.6" width="3.8" height="2.3" fill="#2A2418"/>
<rect x="752.0" y="741.0" width="168.0" height="7.5" fill="#A89C7C"/>
<rect x="753.0" y="741.3" width="3.2" height="2.7" fill="#1C1710"/>
<rect x="759.0" y="741.3" width="3.2" height="2.7" fill="#1C1710"/>
<rect x="765.0" y="741.3" width="3.2" height="2.7" fill="#1C1710"/>
<rect x="771.0" y="741.3" width="3.2" height="2.7" fill="#1C1710"/>
<rect x="777.0" y="741.3" width="3.2" height="2.7" fill="#1C1710"/>
<rect x="783.0" y="741.3" width="3.2" height="2.7" fill="#1C1710"/>
<rect x="789.0" y="741.3" width="3.2" height="2.7" fill="#1C1710"/>
<rect x="795.0" y="741.3" width="3.2" height="2.7" fill="#1C1710"/>
<rect x="801.0" y="741.3" width="3.2" height="2.7" fill="#1C1710"/>
<rect x="807.0" y="741.3" width="3.2" height="2.7" fill="#1C1710"/>
<rect x="813.0" y="741.3" width="3.2" height="2.7" fill="#1C1710"/>
<rect x="819.0" y="741.3" width="3.2" height="2.7" fill="#1C1710"/>
<rect x="825.0" y="741.3" width="3.2" height="2.7" fill="#1C1710"/>
<rect x="831.0" y="741.3" width="3.2" height="2.7" fill="#1C1710"/>
<rect x="837.0" y="741.3" width="3.2" height="2.7" fill="#1C1710"/>
<rect x="843.0" y="741.3" width="3.2" height="2.7" fill="#1C1710"/>
<rect x="849.0" y="741.3" width="3.2" height="2.7" fill="#1C1710"/>
<rect x="855.0" y="741.3" width="3.2" height="2.7" fill="#1C1710"/>
<rect x="861.0" y="741.3" width="3.2" height="2.7" fill="#1C1710"/>
<rect x="867.0" y="741.3" width="3.2" height="2.7" fill="#1C1710"/>
<rect x="873.0" y="741.3" width="3.2" height="2.7" fill="#1C1710"/>
<rect x="879.0" y="741.3" width="3.2" height="2.7" fill="#1C1710"/>
<rect x="885.0" y="741.3" width="3.2" height="2.7" fill="#1C1710"/>
<rect x="891.0" y="741.3" width="3.2" height="2.7" fill="#1C1710"/>
<rect x="897.0" y="741.3" width="3.2" height="2.7" fill="#1C1710"/>
<rect x="903.0" y="741.3" width="3.2" height="2.7" fill="#1C1710"/>
<rect x="909.0" y="741.3" width="3.2" height="2.7" fill="#1C1710"/>
<rect x="915.0" y="741.3" width="3.2" height="2.7" fill="#1C1710"/>
<rect x="752.0" y="743.7" width="168.0" height="1.7" fill="#D6CEB0"/>
<rect x="752.0" y="745.3" width="168.0" height="0.7" fill="#3A3020"/>
<rect x="754.0" y="746.3" width="3.8" height="2.1" fill="#2A2418"/>
<rect x="761.0" y="746.3" width="3.8" height="2.1" fill="#2A2418"/>
<rect x="768.0" y="746.3" width="3.8" height="2.1" fill="#2A2418"/>
<rect x="775.0" y="746.3" width="3.8" height="2.1" fill="#2A2418"/>
<rect x="782.0" y="746.3" width="3.8" height="2.1" fill="#2A2418"/>
<rect x="789.0" y="746.3" width="3.8" height="2.1" fill="#2A2418"/>
<rect x="796.0" y="746.3" width="3.8" height="2.1" fill="#2A2418"/>
<rect x="803.0" y="746.3" width="3.8" height="2.1" fill="#2A2418"/>
<rect x="810.0" y="746.3" width="3.8" height="2.1" fill="#2A2418"/>
<rect x="817.0" y="746.3" width="3.8" height="2.1" fill="#2A2418"/>
<rect x="824.0" y="746.3" width="3.8" height="2.1" fill="#2A2418"/>
<rect x="831.0" y="746.3" width="3.8" height="2.1" fill="#2A2418"/>
<rect x="838.0" y="746.3" width="3.8" height="2.1" fill="#2A2418"/>
<rect x="845.0" y="746.3" width="3.8" height="2.1" fill="#2A2418"/>
<rect x="852.0" y="746.3" width="3.8" height="2.1" fill="#2A2418"/>
<rect x="859.0" y="746.3" width="3.8" height="2.1" fill="#2A2418"/>
<rect x="866.0" y="746.3" width="3.8" height="2.1" fill="#2A2418"/>
<rect x="873.0" y="746.3" width="3.8" height="2.1" fill="#2A2418"/>
<rect x="880.0" y="746.3" width="3.8" height="2.1" fill="#2A2418"/>
<rect x="887.0" y="746.3" width="3.8" height="2.1" fill="#2A2418"/>
<rect x="894.0" y="746.3" width="3.8" height="2.1" fill="#2A2418"/>
<rect x="901.0" y="746.3" width="3.8" height="2.1" fill="#2A2418"/>
<rect x="908.0" y="746.3" width="3.8" height="2.1" fill="#2A2418"/>
<rect x="915.0" y="746.3" width="3.8" height="2.1" fill="#2A2418"/>
<rect x="755.6" y="760.0" width="164.4" height="6.0" fill="#A89C7C"/>
<rect x="756.6" y="760.3" width="3.2" height="2.1" fill="#1C1710"/>
<rect x="762.6" y="760.3" width="3.2" height="2.1" fill="#1C1710"/>
<rect x="768.6" y="760.3" width="3.2" height="2.1" fill="#1C1710"/>
<rect x="774.6" y="760.3" width="3.2" height="2.1" fill="#1C1710"/>
<rect x="780.6" y="760.3" width="3.2" height="2.1" fill="#1C1710"/>
<rect x="786.6" y="760.3" width="3.2" height="2.1" fill="#1C1710"/>
<rect x="792.6" y="760.3" width="3.2" height="2.1" fill="#1C1710"/>
<rect x="798.6" y="760.3" width="3.2" height="2.1" fill="#1C1710"/>
<rect x="804.6" y="760.3" width="3.2" height="2.1" fill="#1C1710"/>
<rect x="810.6" y="760.3" width="3.2" height="2.1" fill="#1C1710"/>
<rect x="816.6" y="760.3" width="3.2" height="2.1" fill="#1C1710"/>
<rect x="822.6" y="760.3" width="3.2" height="2.1" fill="#1C1710"/>
<rect x="828.6" y="760.3" width="3.2" height="2.1" fill="#1C1710"/>
<rect x="834.6" y="760.3" width="3.2" height="2.1" fill="#1C1710"/>
<rect x="840.6" y="760.3" width="3.2" height="2.1" fill="#1C1710"/>
<rect x="846.6" y="760.3" width="3.2" height="2.1" fill="#1C1710"/>
<rect x="852.6" y="760.3" width="3.2" height="2.1" fill="#1C1710"/>
<rect x="858.6" y="760.3" width="3.2" height="2.1" fill="#1C1710"/>
<rect x="864.6" y="760.3" width="3.2" height="2.1" fill="#1C1710"/>
<rect x="870.6" y="760.3" width="3.2" height="2.1" fill="#1C1710"/>
<rect x="876.6" y="760.3" width="3.2" height="2.1" fill="#1C1710"/>
<rect x="882.6" y="760.3" width="3.2" height="2.1" fill="#1C1710"/>
<rect x="888.6" y="760.3" width="3.2" height="2.1" fill="#1C1710"/>
<rect x="894.6" y="760.3" width="3.2" height="2.1" fill="#1C1710"/>
<rect x="900.6" y="760.3" width="3.2" height="2.1" fill="#1C1710"/>
<rect x="906.6" y="760.3" width="3.2" height="2.1" fill="#1C1710"/>
<rect x="912.6" y="760.3" width="3.2" height="2.1" fill="#1C1710"/>
<rect x="755.6" y="762.1" width="164.4" height="1.3" fill="#D6CEB0"/>
<rect x="755.6" y="763.5" width="164.4" height="0.5" fill="#3A3020"/>
<rect x="757.6" y="764.3" width="3.8" height="1.7" fill="#2A2418"/>
<rect x="764.6" y="764.3" width="3.8" height="1.7" fill="#2A2418"/>
<rect x="771.6" y="764.3" width="3.8" height="1.7" fill="#2A2418"/>
<rect x="778.6" y="764.3" width="3.8" height="1.7" fill="#2A2418"/>
<rect x="785.6" y="764.3" width="3.8" height="1.7" fill="#2A2418"/>
<rect x="792.6" y="764.3" width="3.8" height="1.7" fill="#2A2418"/>
<rect x="799.6" y="764.3" width="3.8" height="1.7" fill="#2A2418"/>
<rect x="806.6" y="764.3" width="3.8" height="1.7" fill="#2A2418"/>
<rect x="813.6" y="764.3" width="3.8" height="1.7" fill="#2A2418"/>
<rect x="820.6" y="764.3" width="3.8" height="1.7" fill="#2A2418"/>
<rect x="827.6" y="764.3" width="3.8" height="1.7" fill="#2A2418"/>
<rect x="834.6" y="764.3" width="3.8" height="1.7" fill="#2A2418"/>
<rect x="841.6" y="764.3" width="3.8" height="1.7" fill="#2A2418"/>
<rect x="848.6" y="764.3" width="3.8" height="1.7" fill="#2A2418"/>
<rect x="855.6" y="764.3" width="3.8" height="1.7" fill="#2A2418"/>
<rect x="862.6" y="764.3" width="3.8" height="1.7" fill="#2A2418"/>
<rect x="869.6" y="764.3" width="3.8" height="1.7" fill="#2A2418"/>
<rect x="876.6" y="764.3" width="3.8" height="1.7" fill="#2A2418"/>
<rect x="883.6" y="764.3" width="3.8" height="1.7" fill="#2A2418"/>
<rect x="890.6" y="764.3" width="3.8" height="1.7" fill="#2A2418"/>
<rect x="897.6" y="764.3" width="3.8" height="1.7" fill="#2A2418"/>
<rect x="904.6" y="764.3" width="3.8" height="1.7" fill="#2A2418"/>
<rect x="911.6" y="764.3" width="3.8" height="1.7" fill="#2A2418"/>
<rect x="756.8" y="779.0" width="163.2" height="5.5" fill="#A89C7C"/>
<rect x="757.8" y="779.3" width="3.2" height="2.0" fill="#1C1710"/>
<rect x="763.8" y="779.3" width="3.2" height="2.0" fill="#1C1710"/>
<rect x="769.8" y="779.3" width="3.2" height="2.0" fill="#1C1710"/>
<rect x="775.8" y="779.3" width="3.2" height="2.0" fill="#1C1710"/>
<rect x="781.8" y="779.3" width="3.2" height="2.0" fill="#1C1710"/>
<rect x="787.8" y="779.3" width="3.2" height="2.0" fill="#1C1710"/>
<rect x="793.8" y="779.3" width="3.2" height="2.0" fill="#1C1710"/>
<rect x="799.8" y="779.3" width="3.2" height="2.0" fill="#1C1710"/>
<rect x="805.8" y="779.3" width="3.2" height="2.0" fill="#1C1710"/>
<rect x="811.8" y="779.3" width="3.2" height="2.0" fill="#1C1710"/>
<rect x="817.8" y="779.3" width="3.2" height="2.0" fill="#1C1710"/>
<rect x="823.8" y="779.3" width="3.2" height="2.0" fill="#1C1710"/>
<rect x="829.8" y="779.3" width="3.2" height="2.0" fill="#1C1710"/>
<rect x="835.8" y="779.3" width="3.2" height="2.0" fill="#1C1710"/>
<rect x="841.8" y="779.3" width="3.2" height="2.0" fill="#1C1710"/>
<rect x="847.8" y="779.3" width="3.2" height="2.0" fill="#1C1710"/>
<rect x="853.8" y="779.3" width="3.2" height="2.0" fill="#1C1710"/>
<rect x="859.8" y="779.3" width="3.2" height="2.0" fill="#1C1710"/>
<rect x="865.8" y="779.3" width="3.2" height="2.0" fill="#1C1710"/>
<rect x="871.8" y="779.3" width="3.2" height="2.0" fill="#1C1710"/>
<rect x="877.8" y="779.3" width="3.2" height="2.0" fill="#1C1710"/>
<rect x="883.8" y="779.3" width="3.2" height="2.0" fill="#1C1710"/>
<rect x="889.8" y="779.3" width="3.2" height="2.0" fill="#1C1710"/>
<rect x="895.8" y="779.3" width="3.2" height="2.0" fill="#1C1710"/>
<rect x="901.8" y="779.3" width="3.2" height="2.0" fill="#1C1710"/>
<rect x="907.8" y="779.3" width="3.2" height="2.0" fill="#1C1710"/>
<rect x="913.8" y="779.3" width="3.2" height="2.0" fill="#1C1710"/>
<rect x="756.8" y="781.0" width="163.2" height="1.2" fill="#D6CEB0"/>
<rect x="756.8" y="782.2" width="163.2" height="0.5" fill="#3A3020"/>
<rect x="758.8" y="783.0" width="3.8" height="1.6" fill="#2A2418"/>
<rect x="765.8" y="783.0" width="3.8" height="1.6" fill="#2A2418"/>
<rect x="772.8" y="783.0" width="3.8" height="1.6" fill="#2A2418"/>
<rect x="779.8" y="783.0" width="3.8" height="1.6" fill="#2A2418"/>
<rect x="786.8" y="783.0" width="3.8" height="1.6" fill="#2A2418"/>
<rect x="793.8" y="783.0" width="3.8" height="1.6" fill="#2A2418"/>
<rect x="800.8" y="783.0" width="3.8" height="1.6" fill="#2A2418"/>
<rect x="807.8" y="783.0" width="3.8" height="1.6" fill="#2A2418"/>
<rect x="814.8" y="783.0" width="3.8" height="1.6" fill="#2A2418"/>
<rect x="821.8" y="783.0" width="3.8" height="1.6" fill="#2A2418"/>
<rect x="828.8" y="783.0" width="3.8" height="1.6" fill="#2A2418"/>
<rect x="835.8" y="783.0" width="3.8" height="1.6" fill="#2A2418"/>
<rect x="842.8" y="783.0" width="3.8" height="1.6" fill="#2A2418"/>
<rect x="849.8" y="783.0" width="3.8" height="1.6" fill="#2A2418"/>
<rect x="856.8" y="783.0" width="3.8" height="1.6" fill="#2A2418"/>
<rect x="863.8" y="783.0" width="3.8" height="1.6" fill="#2A2418"/>
<rect x="870.8" y="783.0" width="3.8" height="1.6" fill="#2A2418"/>
<rect x="877.8" y="783.0" width="3.8" height="1.6" fill="#2A2418"/>
<rect x="884.8" y="783.0" width="3.8" height="1.6" fill="#2A2418"/>
<rect x="891.8" y="783.0" width="3.8" height="1.6" fill="#2A2418"/>
<rect x="898.8" y="783.0" width="3.8" height="1.6" fill="#2A2418"/>
<rect x="905.8" y="783.0" width="3.8" height="1.6" fill="#2A2418"/>
<rect x="912.8" y="783.0" width="3.8" height="1.6" fill="#2A2418"/>
<rect x="758.0" y="797.0" width="162.0" height="5.5" fill="#A89C7C"/>
<rect x="759.0" y="797.3" width="3.2" height="2.0" fill="#1C1710"/>
<rect x="765.0" y="797.3" width="3.2" height="2.0" fill="#1C1710"/>
<rect x="771.0" y="797.3" width="3.2" height="2.0" fill="#1C1710"/>
<rect x="777.0" y="797.3" width="3.2" height="2.0" fill="#1C1710"/>
<rect x="783.0" y="797.3" width="3.2" height="2.0" fill="#1C1710"/>
<rect x="789.0" y="797.3" width="3.2" height="2.0" fill="#1C1710"/>
<rect x="795.0" y="797.3" width="3.2" height="2.0" fill="#1C1710"/>
<rect x="801.0" y="797.3" width="3.2" height="2.0" fill="#1C1710"/>
<rect x="807.0" y="797.3" width="3.2" height="2.0" fill="#1C1710"/>
<rect x="813.0" y="797.3" width="3.2" height="2.0" fill="#1C1710"/>
<rect x="819.0" y="797.3" width="3.2" height="2.0" fill="#1C1710"/>
<rect x="825.0" y="797.3" width="3.2" height="2.0" fill="#1C1710"/>
<rect x="831.0" y="797.3" width="3.2" height="2.0" fill="#1C1710"/>
<rect x="837.0" y="797.3" width="3.2" height="2.0" fill="#1C1710"/>
<rect x="843.0" y="797.3" width="3.2" height="2.0" fill="#1C1710"/>
<rect x="849.0" y="797.3" width="3.2" height="2.0" fill="#1C1710"/>
<rect x="855.0" y="797.3" width="3.2" height="2.0" fill="#1C1710"/>
<rect x="861.0" y="797.3" width="3.2" height="2.0" fill="#1C1710"/>
<rect x="867.0" y="797.3" width="3.2" height="2.0" fill="#1C1710"/>
<rect x="873.0" y="797.3" width="3.2" height="2.0" fill="#1C1710"/>
<rect x="879.0" y="797.3" width="3.2" height="2.0" fill="#1C1710"/>
<rect x="885.0" y="797.3" width="3.2" height="2.0" fill="#1C1710"/>
<rect x="891.0" y="797.3" width="3.2" height="2.0" fill="#1C1710"/>
<rect x="897.0" y="797.3" width="3.2" height="2.0" fill="#1C1710"/>
<rect x="903.0" y="797.3" width="3.2" height="2.0" fill="#1C1710"/>
<rect x="909.0" y="797.3" width="3.2" height="2.0" fill="#1C1710"/>
<rect x="915.0" y="797.3" width="3.2" height="2.0" fill="#1C1710"/>
<rect x="758.0" y="799.0" width="162.0" height="1.2" fill="#D6CEB0"/>
<rect x="758.0" y="800.2" width="162.0" height="0.5" fill="#3A3020"/>
<rect x="760.0" y="801.0" width="3.8" height="1.6" fill="#2A2418"/>
<rect x="767.0" y="801.0" width="3.8" height="1.6" fill="#2A2418"/>
<rect x="774.0" y="801.0" width="3.8" height="1.6" fill="#2A2418"/>
<rect x="781.0" y="801.0" width="3.8" height="1.6" fill="#2A2418"/>
<rect x="788.0" y="801.0" width="3.8" height="1.6" fill="#2A2418"/>
<rect x="795.0" y="801.0" width="3.8" height="1.6" fill="#2A2418"/>
<rect x="802.0" y="801.0" width="3.8" height="1.6" fill="#2A2418"/>
<rect x="809.0" y="801.0" width="3.8" height="1.6" fill="#2A2418"/>
<rect x="816.0" y="801.0" width="3.8" height="1.6" fill="#2A2418"/>
<rect x="823.0" y="801.0" width="3.8" height="1.6" fill="#2A2418"/>
<rect x="830.0" y="801.0" width="3.8" height="1.6" fill="#2A2418"/>
<rect x="837.0" y="801.0" width="3.8" height="1.6" fill="#2A2418"/>
<rect x="844.0" y="801.0" width="3.8" height="1.6" fill="#2A2418"/>
<rect x="851.0" y="801.0" width="3.8" height="1.6" fill="#2A2418"/>
<rect x="858.0" y="801.0" width="3.8" height="1.6" fill="#2A2418"/>
<rect x="865.0" y="801.0" width="3.8" height="1.6" fill="#2A2418"/>
<rect x="872.0" y="801.0" width="3.8" height="1.6" fill="#2A2418"/>
<rect x="879.0" y="801.0" width="3.8" height="1.6" fill="#2A2418"/>
<rect x="886.0" y="801.0" width="3.8" height="1.6" fill="#2A2418"/>
<rect x="893.0" y="801.0" width="3.8" height="1.6" fill="#2A2418"/>
<rect x="900.0" y="801.0" width="3.8" height="1.6" fill="#2A2418"/>
<rect x="907.0" y="801.0" width="3.8" height="1.6" fill="#2A2418"/>
<rect x="914.0" y="801.0" width="3.8" height="1.6" fill="#2A2418"/>
<rect x="759.2" y="813.5" width="160.8" height="4.0" fill="#A89C7C"/>
<rect x="760.2" y="813.8" width="3.2" height="1.4" fill="#1C1710"/>
<rect x="766.2" y="813.8" width="3.2" height="1.4" fill="#1C1710"/>
<rect x="772.2" y="813.8" width="3.2" height="1.4" fill="#1C1710"/>
<rect x="778.2" y="813.8" width="3.2" height="1.4" fill="#1C1710"/>
<rect x="784.2" y="813.8" width="3.2" height="1.4" fill="#1C1710"/>
<rect x="790.2" y="813.8" width="3.2" height="1.4" fill="#1C1710"/>
<rect x="796.2" y="813.8" width="3.2" height="1.4" fill="#1C1710"/>
<rect x="802.2" y="813.8" width="3.2" height="1.4" fill="#1C1710"/>
<rect x="808.2" y="813.8" width="3.2" height="1.4" fill="#1C1710"/>
<rect x="814.2" y="813.8" width="3.2" height="1.4" fill="#1C1710"/>
<rect x="820.2" y="813.8" width="3.2" height="1.4" fill="#1C1710"/>
<rect x="826.2" y="813.8" width="3.2" height="1.4" fill="#1C1710"/>
<rect x="832.2" y="813.8" width="3.2" height="1.4" fill="#1C1710"/>
<rect x="838.2" y="813.8" width="3.2" height="1.4" fill="#1C1710"/>
<rect x="844.2" y="813.8" width="3.2" height="1.4" fill="#1C1710"/>
<rect x="850.2" y="813.8" width="3.2" height="1.4" fill="#1C1710"/>
<rect x="856.2" y="813.8" width="3.2" height="1.4" fill="#1C1710"/>
<rect x="862.2" y="813.8" width="3.2" height="1.4" fill="#1C1710"/>
<rect x="868.2" y="813.8" width="3.2" height="1.4" fill="#1C1710"/>
<rect x="874.2" y="813.8" width="3.2" height="1.4" fill="#1C1710"/>
<rect x="880.2" y="813.8" width="3.2" height="1.4" fill="#1C1710"/>
<rect x="886.2" y="813.8" width="3.2" height="1.4" fill="#1C1710"/>
<rect x="892.2" y="813.8" width="3.2" height="1.4" fill="#1C1710"/>
<rect x="898.2" y="813.8" width="3.2" height="1.4" fill="#1C1710"/>
<rect x="904.2" y="813.8" width="3.2" height="1.4" fill="#1C1710"/>
<rect x="910.2" y="813.8" width="3.2" height="1.4" fill="#1C1710"/>
<rect x="759.2" y="814.9" width="160.8" height="0.9" fill="#D6CEB0"/>
<rect x="759.2" y="815.8" width="160.8" height="0.4" fill="#3A3020"/>
<rect x="761.2" y="816.5" width="3.8" height="1.1" fill="#2A2418"/>
<rect x="768.2" y="816.5" width="3.8" height="1.1" fill="#2A2418"/>
<rect x="775.2" y="816.5" width="3.8" height="1.1" fill="#2A2418"/>
<rect x="782.2" y="816.5" width="3.8" height="1.1" fill="#2A2418"/>
<rect x="789.2" y="816.5" width="3.8" height="1.1" fill="#2A2418"/>
<rect x="796.2" y="816.5" width="3.8" height="1.1" fill="#2A2418"/>
<rect x="803.2" y="816.5" width="3.8" height="1.1" fill="#2A2418"/>
<rect x="810.2" y="816.5" width="3.8" height="1.1" fill="#2A2418"/>
<rect x="817.2" y="816.5" width="3.8" height="1.1" fill="#2A2418"/>
<rect x="824.2" y="816.5" width="3.8" height="1.1" fill="#2A2418"/>
<rect x="831.2" y="816.5" width="3.8" height="1.1" fill="#2A2418"/>
<rect x="838.2" y="816.5" width="3.8" height="1.1" fill="#2A2418"/>
<rect x="845.2" y="816.5" width="3.8" height="1.1" fill="#2A2418"/>
<rect x="852.2" y="816.5" width="3.8" height="1.1" fill="#2A2418"/>
<rect x="859.2" y="816.5" width="3.8" height="1.1" fill="#2A2418"/>
<rect x="866.2" y="816.5" width="3.8" height="1.1" fill="#2A2418"/>
<rect x="873.2" y="816.5" width="3.8" height="1.1" fill="#2A2418"/>
<rect x="880.2" y="816.5" width="3.8" height="1.1" fill="#2A2418"/>
<rect x="887.2" y="816.5" width="3.8" height="1.1" fill="#2A2418"/>
<rect x="894.2" y="816.5" width="3.8" height="1.1" fill="#2A2418"/>
<rect x="901.2" y="816.5" width="3.8" height="1.1" fill="#2A2418"/>
<rect x="908.2" y="816.5" width="3.8" height="1.1" fill="#2A2418"/>
<rect x="819" y="688" width="5.5" height="130" fill="#D6CEB0"/>
<rect x="815" y="702.5" width="13" height="2" fill="#DAD2B4"/>
<rect x="815" y="723.0" width="13" height="2" fill="#DAD2B4"/>
<rect x="815" y="743.0" width="13" height="2" fill="#DAD2B4"/>
<rect x="815" y="762.0" width="13" height="2" fill="#DAD2B4"/>
<rect x="815" y="781.0" width="13" height="2" fill="#DAD2B4"/>
<rect x="815" y="799.0" width="13" height="2" fill="#DAD2B4"/>
<path d="M768,817.5 L840,817.5 L840,836.4 L756,836.4 Z" fill="#CBC3A2"/>
<rect x="773.0" y="820.5" width="4" height="4" rx="1.5" fill="#141414"/>
<rect x="779.5" y="820.5" width="4" height="4" rx="1.5" fill="#141414"/>
<rect x="786.0" y="820.5" width="4" height="4" rx="1.5" fill="#141414"/>
<rect x="792.5" y="820.5" width="4" height="4" rx="1.5" fill="#141414"/>
<rect x="799.0" y="820.5" width="4" height="4" rx="1.5" fill="#141414"/>
<rect x="805.5" y="820.5" width="4" height="4" rx="1.5" fill="#141414"/>
<rect x="812.0" y="820.5" width="4" height="4" rx="1.5" fill="#141414"/>
<rect x="818.5" y="820.5" width="4" height="4" rx="1.5" fill="#141414"/>
<rect x="825.0" y="820.5" width="4" height="4" rx="1.5" fill="#141414"/>
<rect x="831.5" y="820.5" width="4" height="4" rx="1.5" fill="#141414"/>
<rect x="762.0" y="828.5" width="4" height="4" rx="1.5" fill="#141414"/>
<rect x="768.5" y="828.5" width="4" height="4" rx="1.5" fill="#141414"/>
<rect x="775.0" y="828.5" width="4" height="4" rx="1.5" fill="#141414"/>
<rect x="781.5" y="828.5" width="4" height="4" rx="1.5" fill="#141414"/>
<rect x="788.0" y="828.5" width="4" height="4" rx="1.5" fill="#141414"/>
<rect x="794.5" y="828.5" width="4" height="4" rx="1.5" fill="#141414"/>
<rect x="801.0" y="828.5" width="4" height="4" rx="1.5" fill="#141414"/>
<rect x="807.5" y="828.5" width="4" height="4" rx="1.5" fill="#141414"/>
<rect x="814.0" y="828.5" width="4" height="4" rx="1.5" fill="#141414"/>
<rect x="820.5" y="828.5" width="4" height="4" rx="1.5" fill="#141414"/>
<rect x="827.0" y="828.5" width="4" height="4" rx="1.5" fill="#141414"/>
<rect x="833.5" y="828.5" width="4" height="4" rx="1.5" fill="#141414"/>
<rect x="738" y="836.4" width="222" height="3" fill="#1A1A1A"/>
<path d="M738,677 L756,677 L754,700 L752,715 L740,715 L738,700 Z" fill="#0D0D10"/>
<path d="M742,700 L753,700 L753,740 L757,790 L761,839 L750,839 L746,790 L743,745 Z" fill="#0D0D10"/>
<path d="M922,687 L960,687 L960,839 L912,839 Z" fill="#1A2446"/>
<path d="M924,688.0 Q945,690.0 960,700.0 L960,714.0 Q945,703.0 922,701.0 Z" fill="#3068DE"/>
<path d="M924,691.0 Q945,693.0 960,703.0" fill="none" stroke="#6094F6" stroke-width="1"/>
<path d="M924,705.5 Q945,707.5 960,717.5 L960,731.5 Q945,720.5 922,718.5 Z" fill="#3068DE"/>
<path d="M924,708.5 Q945,710.5 960,720.5" fill="none" stroke="#6094F6" stroke-width="1"/>
<path d="M924,723.0 Q945,725.0 960,735.0 L960,749.0 Q945,738.0 922,736.0 Z" fill="#3068DE"/>
<path d="M924,726.0 Q945,728.0 960,738.0" fill="none" stroke="#6094F6" stroke-width="1"/>
<path d="M924,740.5 Q945,742.5 960,752.5 L960,766.5 Q945,755.5 922,753.5 Z" fill="#3068DE"/>
<path d="M924,743.5 Q945,745.5 960,755.5" fill="none" stroke="#6094F6" stroke-width="1"/>
<path d="M924,758.0 Q945,760.0 960,770.0 L960,784.0 Q945,773.0 922,771.0 Z" fill="#3068DE"/>
<path d="M924,761.0 Q945,763.0 960,773.0" fill="none" stroke="#6094F6" stroke-width="1"/>
<path d="M924,775.5 Q945,777.5 960,787.5 L960,801.5 Q945,790.5 922,788.5 Z" fill="#3068DE"/>
<path d="M924,778.5 Q945,780.5 960,790.5" fill="none" stroke="#6094F6" stroke-width="1"/>
<path d="M924,793.0 Q945,795.0 960,805.0 L960,819.0 Q945,808.0 922,806.0 Z" fill="#3068DE"/>
<path d="M924,796.0 Q945,798.0 960,808.0" fill="none" stroke="#6094F6" stroke-width="1"/>
<path d="M924,810.5 Q945,812.5 960,822.5 L960,836.5 Q945,825.5 922,823.5 Z" fill="#3068DE"/>
<path d="M924,813.5 Q945,815.5 960,825.5" fill="none" stroke="#6094F6" stroke-width="1"/>
<path d="M924,828.0 Q945,830.0 960,840.0 L960,854.0 Q945,843.0 922,841.0 Z" fill="#3068DE"/>
<path d="M924,831.0 Q945,833.0 960,843.0" fill="none" stroke="#6094F6" stroke-width="1"/>
<path d="M922,687 L931.6,687 L927,760 L919.6,839 L907.6,839 L915,760 Z" fill="#0D0D10"/>
</g>
<!-- bottom labels -->
<rect x="48" y="884.3" width="198" height="34" fill="#000"/>
<text x="52.00" y="911.2" font-size="31.5" fill="#fff" stroke="#fff" stroke-width="0.85" textLength="190.00" lengthAdjust="spacingAndGlyphs">Regular Cable</text>
<rect x="291" y="884.5" width="150" height="34.3" fill="#000"/>
<text x="297.00" y="911.7" font-size="31.5" fill="#fff" stroke="#fff" stroke-width="0.85" textLength="138.00" lengthAdjust="spacingAndGlyphs">Slim Cable</text>
<rect x="518.2" y="884.5" width="149.6" height="34.3" fill="#000"/>
<text x="524.00" y="911.7" font-size="31.5" fill="#fff" stroke="#fff" stroke-width="0.85" textLength="138.00" lengthAdjust="spacingAndGlyphs">Slim Cable</text>
<rect x="754.3" y="884.3" width="197.4" height="34" fill="#000"/>
<text x="758.00" y="911.2" font-size="31.5" fill="#fff" stroke="#fff" stroke-width="0.85" textLength="191.00" lengthAdjust="spacingAndGlyphs">Regular Cable</text>
</svg>
</body></html>
